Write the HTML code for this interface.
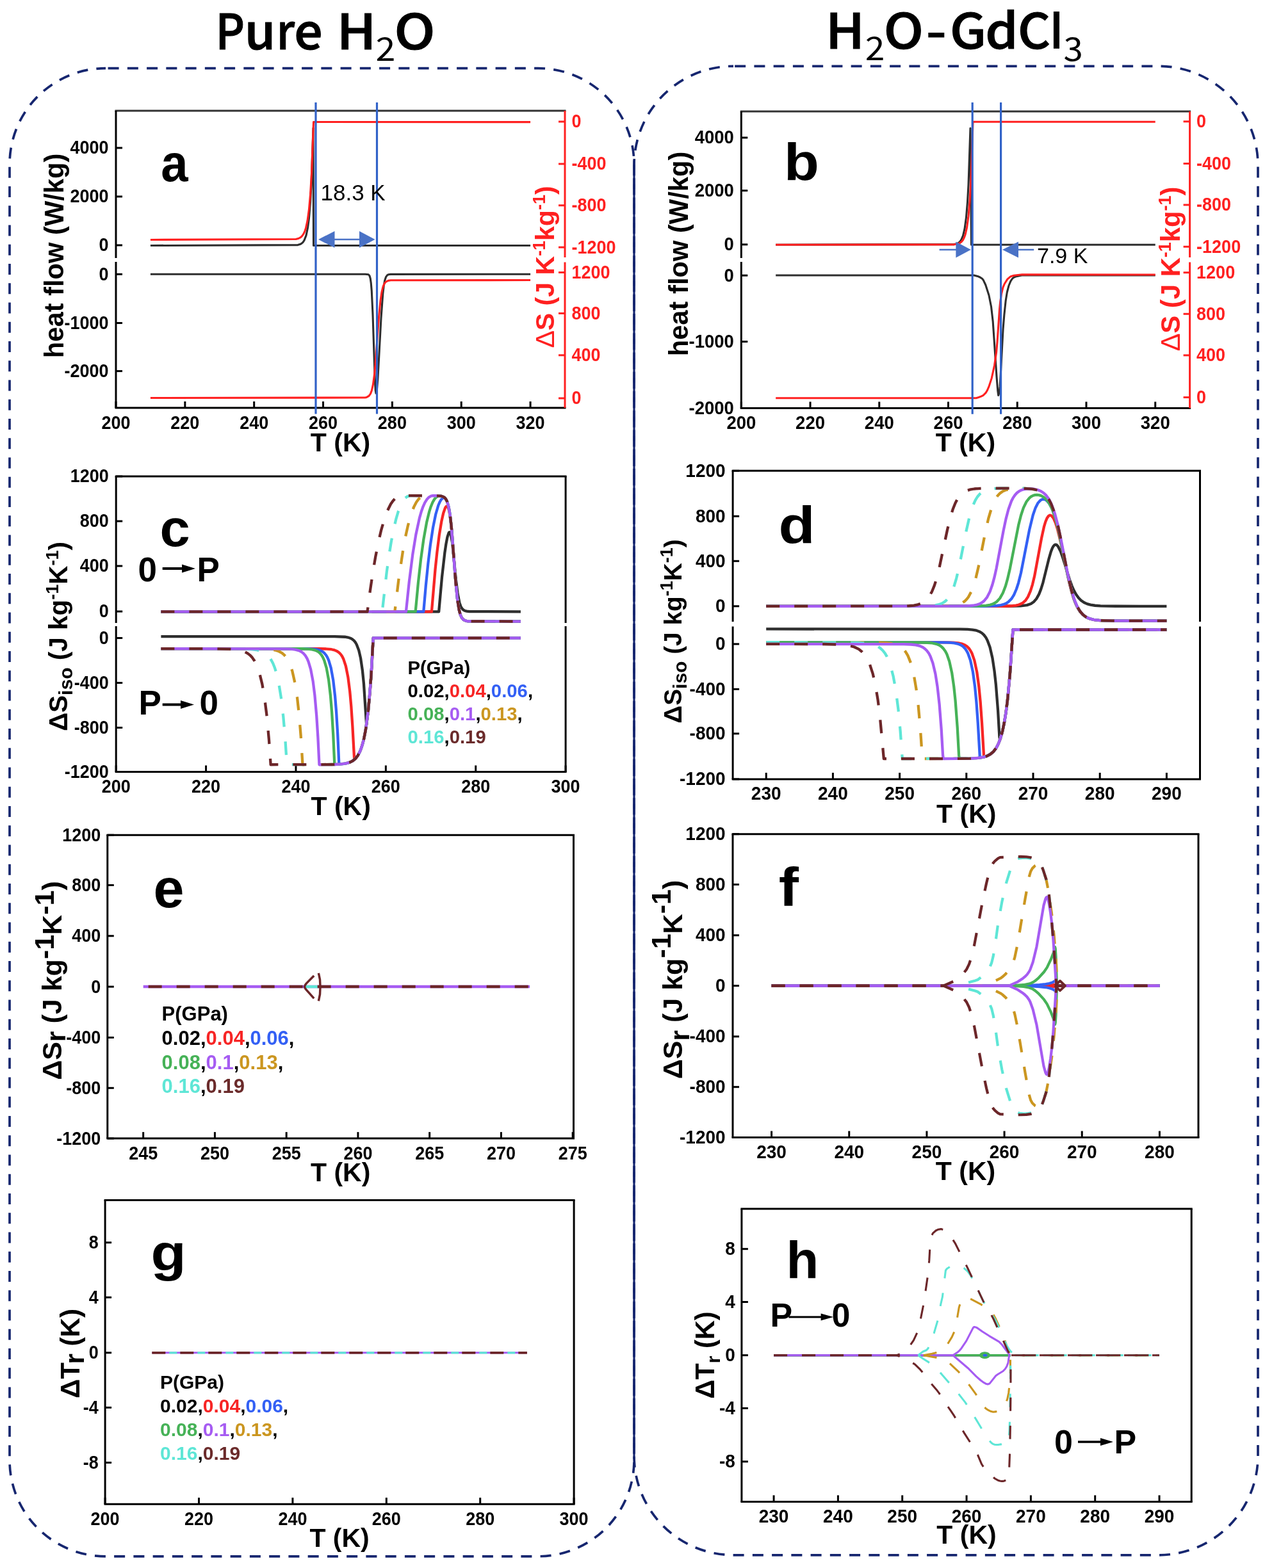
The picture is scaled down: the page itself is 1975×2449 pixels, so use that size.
<!DOCTYPE html>
<html><head><meta charset="utf-8"><title>Figure</title>
<style>html,body{margin:0;padding:0;background:#fff;} svg{display:block;}</style>
</head><body>
<svg width="1975" height="2449" viewBox="0 0 1975 2449"><g font-family="'Noto Sans CJK SC', 'Liberation Sans', sans-serif" fill="#000">
<text transform="translate(336.52,76.6) scale(0.926,1)" font-size="76" font-weight="500" stroke="#000" stroke-width="1.1">P</text>
<text transform="translate(381.71,76.6) scale(1.031,1)" font-size="76" font-weight="500" stroke="#000" stroke-width="1.1">u</text>
<text transform="translate(431.81,76.6) scale(0.913,1)" font-size="76" font-weight="500" stroke="#000" stroke-width="1.1">r</text>
<text transform="translate(459.27,76.6) scale(1.033,1)" font-size="76" font-weight="500" stroke="#000" stroke-width="1.1">e</text>
<text transform="translate(525.73,76.6) scale(1.095,1)" font-size="76" font-weight="500" stroke="#000" stroke-width="1.1">H</text>
<text transform="translate(615.43,76.6) scale(1.116,1)" font-size="76" font-weight="500" stroke="#000" stroke-width="1.1">O</text>
<text transform="translate(586.57,94.6) scale(1.113,1)" font-size="50" font-weight="400">2</text>
<text transform="translate(1288.92,76.3) scale(1.083,1)" font-size="76" font-weight="500" stroke="#000" stroke-width="1.1">H</text>
<text transform="translate(1379.66,76.3) scale(1.086,1)" font-size="76" font-weight="500" stroke="#000" stroke-width="1.1">O</text>
<text transform="translate(1445.63,76.3) scale(1.180,1)" font-size="76" font-weight="500" stroke="#000" stroke-width="1.1">-</text>
<text transform="translate(1482.92,76.3) scale(1.070,1)" font-size="76" font-weight="500" stroke="#000" stroke-width="1.1">G</text>
<text transform="translate(1538.31,76.3) scale(1.073,1)" font-size="76" font-weight="500" stroke="#000" stroke-width="1.1">d</text>
<text transform="translate(1589.04,76.3) scale(1.040,1)" font-size="76" font-weight="500" stroke="#000" stroke-width="1.1">C</text>
<text transform="translate(1640.25,76.2) scale(0.842,1)" font-family="'Liberation Sans', Arial, sans-serif" font-size="78.9" font-weight="bold">l</text>
<text transform="translate(1350.79,94.4) scale(1.104,1)" font-size="50" font-weight="400">2</text>
<text transform="translate(1660.62,94.8) scale(1.091,1)" font-size="50" font-weight="400">3</text>
</g>
<path d="M165,106.6 L840,106.6 A150,150 0 0 1 990,256.6 L990,2280.8 A150,150 0 0 1 840,2430.8 L165,2430.8 A150,150 0 0 1 15,2280.8 L15,256.6 A150,150 0 0 1 165,106.6 Z" fill="none" stroke="#16266f" stroke-width="3.7" stroke-dasharray="17,13.25" stroke-dashoffset="-3.6"/>
<path d="M1145,103.3 L1809,103.3 A155,155 0 0 1 1964,258.3 L1964,2273.8 A155,155 0 0 1 1809,2428.8 L1145,2428.8 A155,155 0 0 1 990,2273.8 L990,258.3 A155,155 0 0 1 1145,103.3 Z" fill="none" stroke="#16266f" stroke-width="3.7" stroke-dasharray="17,13.25" stroke-dashoffset="-2.15"/>
<line x1="990" y1="250" x2="990" y2="2279" stroke="#16266f" stroke-width="3.2" />
<line x1="179.5" y1="173" x2="883.5" y2="173" stroke="#333" stroke-width="3" />
<line x1="179.5" y1="637" x2="883.5" y2="637" stroke="#000" stroke-width="3" />
<line x1="181" y1="173" x2="181" y2="403" stroke="#000" stroke-width="3" />
<line x1="181" y1="409" x2="181" y2="637" stroke="#000" stroke-width="3" />
<line x1="882" y1="173" x2="882" y2="402" stroke="#ff2020" stroke-width="3" />
<line x1="882" y1="409.5" x2="882" y2="637" stroke="#ff2020" stroke-width="3" />
<line x1="181" y1="637" x2="181" y2="627" stroke="#000" stroke-width="3" />
<text transform="translate(181,669.5) scale(1.0,1.08)" font-family="'Liberation Sans', Arial, sans-serif" font-size="27" font-weight="bold" fill="#000" text-anchor="middle" >200</text>
<line x1="288.85" y1="637" x2="288.85" y2="627" stroke="#000" stroke-width="3" />
<text transform="translate(288.85,669.5) scale(1.0,1.08)" font-family="'Liberation Sans', Arial, sans-serif" font-size="27" font-weight="bold" fill="#000" text-anchor="middle" >220</text>
<line x1="396.69" y1="637" x2="396.69" y2="627" stroke="#000" stroke-width="3" />
<text transform="translate(396.69,669.5) scale(1.0,1.08)" font-family="'Liberation Sans', Arial, sans-serif" font-size="27" font-weight="bold" fill="#000" text-anchor="middle" >240</text>
<line x1="504.54" y1="637" x2="504.54" y2="627" stroke="#000" stroke-width="3" />
<text transform="translate(504.54,669.5) scale(1.0,1.08)" font-family="'Liberation Sans', Arial, sans-serif" font-size="27" font-weight="bold" fill="#000" text-anchor="middle" >260</text>
<line x1="612.38" y1="637" x2="612.38" y2="627" stroke="#000" stroke-width="3" />
<text transform="translate(612.38,669.5) scale(1.0,1.08)" font-family="'Liberation Sans', Arial, sans-serif" font-size="27" font-weight="bold" fill="#000" text-anchor="middle" >280</text>
<line x1="720.23" y1="637" x2="720.23" y2="627" stroke="#000" stroke-width="3" />
<text transform="translate(720.23,669.5) scale(1.0,1.08)" font-family="'Liberation Sans', Arial, sans-serif" font-size="27" font-weight="bold" fill="#000" text-anchor="middle" >300</text>
<line x1="828.08" y1="637" x2="828.08" y2="627" stroke="#000" stroke-width="3" />
<text transform="translate(828.08,669.5) scale(1.0,1.08)" font-family="'Liberation Sans', Arial, sans-serif" font-size="27" font-weight="bold" fill="#000" text-anchor="middle" >320</text>
<line x1="181" y1="231" x2="191" y2="231" stroke="#000" stroke-width="3" />
<text transform="translate(169.5,240.4) scale(1.0,1.08)" font-family="'Liberation Sans', Arial, sans-serif" font-size="27" font-weight="bold" fill="#000" text-anchor="end" >4000</text>
<line x1="181" y1="307" x2="191" y2="307" stroke="#000" stroke-width="3" />
<text transform="translate(169.5,316.4) scale(1.0,1.08)" font-family="'Liberation Sans', Arial, sans-serif" font-size="27" font-weight="bold" fill="#000" text-anchor="end" >2000</text>
<line x1="181" y1="383" x2="191" y2="383" stroke="#000" stroke-width="3" />
<text transform="translate(169.5,392.4) scale(1.0,1.08)" font-family="'Liberation Sans', Arial, sans-serif" font-size="27" font-weight="bold" fill="#000" text-anchor="end" >0</text>
<line x1="181" y1="428.3" x2="191" y2="428.3" stroke="#000" stroke-width="3" />
<text transform="translate(169.5,437.7) scale(1.0,1.08)" font-family="'Liberation Sans', Arial, sans-serif" font-size="27" font-weight="bold" fill="#000" text-anchor="end" >0</text>
<line x1="181" y1="504.5" x2="191" y2="504.5" stroke="#000" stroke-width="3" />
<text transform="translate(169.5,513.9) scale(1.0,1.08)" font-family="'Liberation Sans', Arial, sans-serif" font-size="27" font-weight="bold" fill="#000" text-anchor="end" >-1000</text>
<line x1="181" y1="579.6" x2="191" y2="579.6" stroke="#000" stroke-width="3" />
<text transform="translate(169.5,589) scale(1.0,1.08)" font-family="'Liberation Sans', Arial, sans-serif" font-size="27" font-weight="bold" fill="#000" text-anchor="end" >-2000</text>
<line x1="882" y1="190" x2="872" y2="190" stroke="#ff2020" stroke-width="3" />
<text transform="translate(892.5,199.4) scale(1.0,1.08)" font-family="'Liberation Sans', Arial, sans-serif" font-size="27" font-weight="bold" fill="#ff2020" text-anchor="start" >0</text>
<line x1="882" y1="256" x2="872" y2="256" stroke="#ff2020" stroke-width="3" />
<text transform="translate(892.5,265.4) scale(1.0,1.08)" font-family="'Liberation Sans', Arial, sans-serif" font-size="27" font-weight="bold" fill="#ff2020" text-anchor="start" >-400</text>
<line x1="882" y1="320.8" x2="872" y2="320.8" stroke="#ff2020" stroke-width="3" />
<text transform="translate(892.5,330.2) scale(1.0,1.08)" font-family="'Liberation Sans', Arial, sans-serif" font-size="27" font-weight="bold" fill="#ff2020" text-anchor="start" >-800</text>
<line x1="882" y1="386.2" x2="872" y2="386.2" stroke="#ff2020" stroke-width="3" />
<text transform="translate(892.5,395.6) scale(1.0,1.08)" font-family="'Liberation Sans', Arial, sans-serif" font-size="27" font-weight="bold" fill="#ff2020" text-anchor="start" >-1200</text>
<line x1="882" y1="425.5" x2="872" y2="425.5" stroke="#ff2020" stroke-width="3" />
<text transform="translate(892.5,434.9) scale(1.0,1.08)" font-family="'Liberation Sans', Arial, sans-serif" font-size="27" font-weight="bold" fill="#ff2020" text-anchor="start" >1200</text>
<line x1="882" y1="489.4" x2="872" y2="489.4" stroke="#ff2020" stroke-width="3" />
<text transform="translate(892.5,498.8) scale(1.0,1.08)" font-family="'Liberation Sans', Arial, sans-serif" font-size="27" font-weight="bold" fill="#ff2020" text-anchor="start" >800</text>
<line x1="882" y1="554.8" x2="872" y2="554.8" stroke="#ff2020" stroke-width="3" />
<text transform="translate(892.5,564.2) scale(1.0,1.08)" font-family="'Liberation Sans', Arial, sans-serif" font-size="27" font-weight="bold" fill="#ff2020" text-anchor="start" >400</text>
<line x1="882" y1="622" x2="872" y2="622" stroke="#ff2020" stroke-width="3" />
<text transform="translate(892.5,631.4) scale(1.0,1.08)" font-family="'Liberation Sans', Arial, sans-serif" font-size="27" font-weight="bold" fill="#ff2020" text-anchor="start" >0</text>
<text transform="translate(99.3,399.4) rotate(-90)" font-family="'Liberation Sans', Arial, sans-serif" font-size="41.7" font-weight="bold" fill="#000" text-anchor="middle">heat flow (W/kg)</text>
<text transform="translate(865,417) rotate(-90)" font-family="'Liberation Sans', Arial, sans-serif" font-size="41" font-weight="bold" fill="#ff2020" text-anchor="middle"><tspan font-weight="normal">&#916;</tspan>S (J K<tspan dy="-14" font-size="27">-1</tspan><tspan dy="14">kg</tspan><tspan dy="-14" font-size="27">-1</tspan><tspan dy="14">)</tspan></text>
<text transform="translate(251.22,282.89) scale(0.936,1)" font-family="'Liberation Sans', Arial, sans-serif" font-size="81.3" font-weight="bold">a</text>
<text x="531.5" y="704.5" font-family="'Liberation Sans', Arial, sans-serif" font-size="41" font-weight="bold" fill="#000" text-anchor="middle" >T (K)</text>
<path d="M234.92,383.5 L465,382.61 L468.5,381.57 L471,380.14 L473,378.26 L475,375.32 L478,367.58 L480.5,355.75 L482.5,340.22 L484.5,315.99 L486,289.29 L489,200 L489.5,383.5 L828.08,383.5" fill="none" stroke="#2e2e2e" stroke-width="3.1" stroke-linejoin="round" stroke-linecap="butt" />
<path d="M234.92,374.5 L462,373.57 L466,372.49 L469.5,370.57 L472,368.14 L474,365.16 L476,360.78 L477.5,356.19 L480,344.89 L482.5,326.62 L484.5,304.16 L486.5,271.16 L489.5,190.5 L828.08,190.6" fill="none" stroke="#ff2020" stroke-width="3.1" stroke-linejoin="round" stroke-linecap="butt" />
<path d="M234.92,428.3 L570.25,428.3 L575.25,428.76 L577,430.72 L578.25,435 L579.25,442.02 L580.25,454.04 L582,491.15 L585.25,591.15 L586.25,609.81 L587,614.3 L587.5,613.57 L588.25,609.81 L589.75,593.57 L595,496.73 L597.75,458.87 L599.25,446.13 L600.75,438 L602.5,432.66 L604.75,429.65 L606.75,428.72 L610,428.35 L828.08,428.3" fill="none" stroke="#2e2e2e" stroke-width="3.1" stroke-linejoin="round" stroke-linecap="butt" />
<path d="M234.92,621.5 L570,621.02 L572.5,620.45 L576,618.39 L578.5,614.84 L580.5,609.43 L582.5,600.16 L584.5,585.28 L586,569.72 L591.5,495.29 L594,469.39 L596,456.06 L598,447.92 L600,443.23 L601.5,441.13 L603,439.79 L606,438.4 L610,437.76 L828.08,437.5" fill="none" stroke="#ff2020" stroke-width="3.1" stroke-linejoin="round" stroke-linecap="butt" />
<line x1="493" y1="160" x2="493" y2="646.5" stroke="#3162c8" stroke-width="3.2" />
<line x1="588.5" y1="160" x2="588.5" y2="646.5" stroke="#3162c8" stroke-width="3.2" />
<line x1="515" y1="374" x2="570" y2="374" stroke="#4a72c6" stroke-width="2.5" />
<path d="M497,374 L522.5,361 L522.5,387 Z" fill="#4a72c6"/>
<path d="M585.5,374 L561,361 L561,387 Z" fill="#4a72c6"/>
<text x="500.5" y="312.6" font-family="'Liberation Sans', Arial, sans-serif" font-size="35" font-weight="normal" fill="#000" text-anchor="start" >18.3 K</text>
<line x1="1155.8" y1="174" x2="1859.1" y2="174" stroke="#333" stroke-width="3" />
<line x1="1155.8" y1="637.5" x2="1859.1" y2="637.5" stroke="#000" stroke-width="3" />
<line x1="1157.3" y1="174" x2="1157.3" y2="403" stroke="#000" stroke-width="3" />
<line x1="1157.3" y1="409" x2="1157.3" y2="637.5" stroke="#000" stroke-width="3" />
<line x1="1857.6" y1="174" x2="1857.6" y2="402" stroke="#ff2020" stroke-width="3" />
<line x1="1857.6" y1="409.5" x2="1857.6" y2="637.5" stroke="#ff2020" stroke-width="3" />
<line x1="1157.3" y1="637.5" x2="1157.3" y2="627.5" stroke="#000" stroke-width="3" />
<text transform="translate(1157.3,670) scale(1.0,1.08)" font-family="'Liberation Sans', Arial, sans-serif" font-size="27.5" font-weight="bold" fill="#000" text-anchor="middle" >200</text>
<line x1="1265.04" y1="637.5" x2="1265.04" y2="627.5" stroke="#000" stroke-width="3" />
<text transform="translate(1265.04,670) scale(1.0,1.08)" font-family="'Liberation Sans', Arial, sans-serif" font-size="27.5" font-weight="bold" fill="#000" text-anchor="middle" >220</text>
<line x1="1372.78" y1="637.5" x2="1372.78" y2="627.5" stroke="#000" stroke-width="3" />
<text transform="translate(1372.78,670) scale(1.0,1.08)" font-family="'Liberation Sans', Arial, sans-serif" font-size="27.5" font-weight="bold" fill="#000" text-anchor="middle" >240</text>
<line x1="1480.52" y1="637.5" x2="1480.52" y2="627.5" stroke="#000" stroke-width="3" />
<text transform="translate(1480.52,670) scale(1.0,1.08)" font-family="'Liberation Sans', Arial, sans-serif" font-size="27.5" font-weight="bold" fill="#000" text-anchor="middle" >260</text>
<line x1="1588.25" y1="637.5" x2="1588.25" y2="627.5" stroke="#000" stroke-width="3" />
<text transform="translate(1588.25,670) scale(1.0,1.08)" font-family="'Liberation Sans', Arial, sans-serif" font-size="27.5" font-weight="bold" fill="#000" text-anchor="middle" >280</text>
<line x1="1695.99" y1="637.5" x2="1695.99" y2="627.5" stroke="#000" stroke-width="3" />
<text transform="translate(1695.99,670) scale(1.0,1.08)" font-family="'Liberation Sans', Arial, sans-serif" font-size="27.5" font-weight="bold" fill="#000" text-anchor="middle" >300</text>
<line x1="1803.73" y1="637.5" x2="1803.73" y2="627.5" stroke="#000" stroke-width="3" />
<text transform="translate(1803.73,670) scale(1.0,1.08)" font-family="'Liberation Sans', Arial, sans-serif" font-size="27.5" font-weight="bold" fill="#000" text-anchor="middle" >320</text>
<line x1="1157.3" y1="215" x2="1167.3" y2="215" stroke="#000" stroke-width="3" />
<text transform="translate(1145.8,224.4) scale(1.0,1.08)" font-family="'Liberation Sans', Arial, sans-serif" font-size="27.5" font-weight="bold" fill="#000" text-anchor="end" >4000</text>
<line x1="1157.3" y1="297.7" x2="1167.3" y2="297.7" stroke="#000" stroke-width="3" />
<text transform="translate(1145.8,307.1) scale(1.0,1.08)" font-family="'Liberation Sans', Arial, sans-serif" font-size="27.5" font-weight="bold" fill="#000" text-anchor="end" >2000</text>
<line x1="1157.3" y1="381.9" x2="1167.3" y2="381.9" stroke="#000" stroke-width="3" />
<text transform="translate(1145.8,391.3) scale(1.0,1.08)" font-family="'Liberation Sans', Arial, sans-serif" font-size="27.5" font-weight="bold" fill="#000" text-anchor="end" >0</text>
<line x1="1157.3" y1="430.2" x2="1167.3" y2="430.2" stroke="#000" stroke-width="3" />
<text transform="translate(1145.8,439.6) scale(1.0,1.08)" font-family="'Liberation Sans', Arial, sans-serif" font-size="27.5" font-weight="bold" fill="#000" text-anchor="end" >0</text>
<line x1="1157.3" y1="533.6" x2="1167.3" y2="533.6" stroke="#000" stroke-width="3" />
<text transform="translate(1145.8,543) scale(1.0,1.08)" font-family="'Liberation Sans', Arial, sans-serif" font-size="27.5" font-weight="bold" fill="#000" text-anchor="end" >-1000</text>
<line x1="1157.3" y1="637.5" x2="1167.3" y2="637.5" stroke="#000" stroke-width="3" />
<text transform="translate(1145.8,646.9) scale(1.0,1.08)" font-family="'Liberation Sans', Arial, sans-serif" font-size="27.5" font-weight="bold" fill="#000" text-anchor="end" >-2000</text>
<line x1="1857.6" y1="189.8" x2="1847.6" y2="189.8" stroke="#ff2020" stroke-width="3" />
<text transform="translate(1868.1,199.2) scale(1.0,1.08)" font-family="'Liberation Sans', Arial, sans-serif" font-size="27" font-weight="bold" fill="#ff2020" text-anchor="start" >0</text>
<line x1="1857.6" y1="255.5" x2="1847.6" y2="255.5" stroke="#ff2020" stroke-width="3" />
<text transform="translate(1868.1,264.9) scale(1.0,1.08)" font-family="'Liberation Sans', Arial, sans-serif" font-size="27" font-weight="bold" fill="#ff2020" text-anchor="start" >-400</text>
<line x1="1857.6" y1="320" x2="1847.6" y2="320" stroke="#ff2020" stroke-width="3" />
<text transform="translate(1868.1,329.4) scale(1.0,1.08)" font-family="'Liberation Sans', Arial, sans-serif" font-size="27" font-weight="bold" fill="#ff2020" text-anchor="start" >-800</text>
<line x1="1857.6" y1="385.3" x2="1847.6" y2="385.3" stroke="#ff2020" stroke-width="3" />
<text transform="translate(1868.1,394.7) scale(1.0,1.08)" font-family="'Liberation Sans', Arial, sans-serif" font-size="27" font-weight="bold" fill="#ff2020" text-anchor="start" >-1200</text>
<line x1="1857.6" y1="425.7" x2="1847.6" y2="425.7" stroke="#ff2020" stroke-width="3" />
<text transform="translate(1868.1,435.1) scale(1.0,1.08)" font-family="'Liberation Sans', Arial, sans-serif" font-size="27" font-weight="bold" fill="#ff2020" text-anchor="start" >1200</text>
<line x1="1857.6" y1="490.3" x2="1847.6" y2="490.3" stroke="#ff2020" stroke-width="3" />
<text transform="translate(1868.1,499.7) scale(1.0,1.08)" font-family="'Liberation Sans', Arial, sans-serif" font-size="27" font-weight="bold" fill="#ff2020" text-anchor="start" >800</text>
<line x1="1857.6" y1="554.9" x2="1847.6" y2="554.9" stroke="#ff2020" stroke-width="3" />
<text transform="translate(1868.1,564.3) scale(1.0,1.08)" font-family="'Liberation Sans', Arial, sans-serif" font-size="27" font-weight="bold" fill="#ff2020" text-anchor="start" >400</text>
<line x1="1857.6" y1="620.6" x2="1847.6" y2="620.6" stroke="#ff2020" stroke-width="3" />
<text transform="translate(1868.1,630) scale(1.0,1.08)" font-family="'Liberation Sans', Arial, sans-serif" font-size="27" font-weight="bold" fill="#ff2020" text-anchor="start" >0</text>
<text transform="translate(1074.3,396.5) rotate(-90)" font-family="'Liberation Sans', Arial, sans-serif" font-size="41.7" font-weight="bold" fill="#000" text-anchor="middle">heat flow (W/kg)</text>
<text transform="translate(1841.5,420) rotate(-90)" font-family="'Liberation Sans', Arial, sans-serif" font-size="41.8" font-weight="bold" fill="#ff2020" text-anchor="middle"><tspan font-weight="normal">&#916;</tspan>S (J K<tspan dy="-14" font-size="27">-1</tspan><tspan dy="14">kg</tspan><tspan dy="-14" font-size="27">-1</tspan><tspan dy="14">)</tspan></text>
<text transform="translate(1224.01,280.8) scale(1.111,1)" font-family="'Liberation Sans', Arial, sans-serif" font-size="80.8" font-weight="bold">b</text>
<text x="1507.45" y="704.5" font-family="'Liberation Sans', Arial, sans-serif" font-size="41" font-weight="bold" fill="#000" text-anchor="middle" >T (K)</text>
<path d="M1211.17,382.3 L1490,381.6 L1493.5,380.77 L1496,379.63 L1498.5,377.65 L1500.5,375.04 L1503.5,368.17 L1506,357.67 L1508.5,339.37 L1510.5,315.35 L1512,288.86 L1515,200.3 L1516.5,382.3 L1803.73,382.3" fill="none" stroke="#2e2e2e" stroke-width="3.1" stroke-linejoin="round" stroke-linecap="butt" />
<path d="M1211.17,382.3 L1490,381.84 L1495,381.01 L1499,379.32 L1501.5,377.29 L1503.5,374.7 L1505.5,370.77 L1507,366.54 L1509.5,355.77 L1512,337.64 L1514,314.55 L1516,279.53 L1519,190.3 L1803.73,190.3" fill="none" stroke="#ff2020" stroke-width="3.1" stroke-linejoin="round" stroke-linecap="butt" />
<path d="M1211.17,430 L1520.6,430 L1526.25,431.43 L1530,433 L1533.49,435.33 L1535.08,437.19 L1538.79,444.97 L1543.94,460.97 L1547.55,479.14 L1550.17,501.97 L1556.06,589.12 L1557.7,609.7 L1558.72,617.49 L1560.13,612.83 L1561.21,603.95 L1566.05,514.08 L1567.91,491.24 L1570.16,469.84 L1572.3,456.5 L1574.86,446.52 L1577.88,439.19 L1580.3,435.5 L1581.72,434.06 L1583.32,432.97 L1586.83,431.61 L1596.5,429.82 L1803.73,430" fill="none" stroke="#2e2e2e" stroke-width="3.1" stroke-linejoin="round" stroke-linecap="butt" />
<path d="M1211.17,621.8 L1523.9,621.8 L1528.01,620.47 L1531.75,619.13 L1535.33,617.27 L1539.18,613.32 L1541.2,610.01 L1543.91,603.94 L1548.25,590.61 L1552.65,570.29 L1555.58,550.05 L1557.03,533.86 L1560.54,482.94 L1561.69,471.28 L1563.57,458.61 L1565.82,449.27 L1568.33,443.22 L1572.78,436.15 L1577.1,432.3 L1578.87,431.41 L1583.08,430.21 L1595.71,428.77 L1803.73,429" fill="none" stroke="#ff2020" stroke-width="3.1" stroke-linejoin="round" stroke-linecap="butt" />
<line x1="1518.2" y1="160" x2="1518.2" y2="646.8" stroke="#3162c8" stroke-width="3.2" />
<line x1="1562.6" y1="160" x2="1562.6" y2="646.8" stroke="#3162c8" stroke-width="3.2" />
<line x1="1466.6" y1="390" x2="1495" y2="390" stroke="#4a72c6" stroke-width="2.5" />
<path d="M1515.8,390 L1492.4,377.4 L1492.4,402.4 Z" fill="#4a72c6"/>
<line x1="1588" y1="390" x2="1614.2" y2="390" stroke="#4a72c6" stroke-width="2.5" />
<path d="M1565,390 L1590,377.4 L1590,402.4 Z" fill="#4a72c6"/>
<text x="1619" y="411.3" font-family="'Liberation Sans', Arial, sans-serif" font-size="34" font-weight="normal" fill="#000" text-anchor="start" >7.9 K</text>
<line x1="179.7" y1="744" x2="884.6" y2="744" stroke="#000" stroke-width="3" />
<line x1="179.7" y1="1205.5" x2="884.6" y2="1205.5" stroke="#000" stroke-width="3" />
<line x1="181.2" y1="744" x2="181.2" y2="973" stroke="#000" stroke-width="3" />
<line x1="181.2" y1="978" x2="181.2" y2="1205.5" stroke="#000" stroke-width="3" />
<line x1="883.1" y1="744" x2="883.1" y2="973" stroke="#000" stroke-width="3" />
<line x1="883.1" y1="978" x2="883.1" y2="1205.5" stroke="#000" stroke-width="3" />
<line x1="181.2" y1="1205.5" x2="181.2" y2="1195.5" stroke="#000" stroke-width="3" />
<text transform="translate(181.2,1238) scale(1.0,1.08)" font-family="'Liberation Sans', Arial, sans-serif" font-size="27" font-weight="bold" fill="#000" text-anchor="middle" >200</text>
<line x1="321.58" y1="1205.5" x2="321.58" y2="1195.5" stroke="#000" stroke-width="3" />
<text transform="translate(321.58,1238) scale(1.0,1.08)" font-family="'Liberation Sans', Arial, sans-serif" font-size="27" font-weight="bold" fill="#000" text-anchor="middle" >220</text>
<line x1="461.96" y1="1205.5" x2="461.96" y2="1195.5" stroke="#000" stroke-width="3" />
<text transform="translate(461.96,1238) scale(1.0,1.08)" font-family="'Liberation Sans', Arial, sans-serif" font-size="27" font-weight="bold" fill="#000" text-anchor="middle" >240</text>
<line x1="602.34" y1="1205.5" x2="602.34" y2="1195.5" stroke="#000" stroke-width="3" />
<text transform="translate(602.34,1238) scale(1.0,1.08)" font-family="'Liberation Sans', Arial, sans-serif" font-size="27" font-weight="bold" fill="#000" text-anchor="middle" >260</text>
<line x1="742.72" y1="1205.5" x2="742.72" y2="1195.5" stroke="#000" stroke-width="3" />
<text transform="translate(742.72,1238) scale(1.0,1.08)" font-family="'Liberation Sans', Arial, sans-serif" font-size="27" font-weight="bold" fill="#000" text-anchor="middle" >280</text>
<line x1="883.1" y1="1205.5" x2="883.1" y2="1195.5" stroke="#000" stroke-width="3" />
<text transform="translate(883.1,1238) scale(1.0,1.08)" font-family="'Liberation Sans', Arial, sans-serif" font-size="27" font-weight="bold" fill="#000" text-anchor="middle" >300</text>
<line x1="181.2" y1="744" x2="191.2" y2="744" stroke="#000" stroke-width="3" />
<text transform="translate(169.7,753.4) scale(1.0,1.08)" font-family="'Liberation Sans', Arial, sans-serif" font-size="27" font-weight="bold" fill="#000" text-anchor="end" >1200</text>
<line x1="181.2" y1="814" x2="191.2" y2="814" stroke="#000" stroke-width="3" />
<text transform="translate(169.7,823.4) scale(1.0,1.08)" font-family="'Liberation Sans', Arial, sans-serif" font-size="27" font-weight="bold" fill="#000" text-anchor="end" >800</text>
<line x1="181.2" y1="884" x2="191.2" y2="884" stroke="#000" stroke-width="3" />
<text transform="translate(169.7,893.4) scale(1.0,1.08)" font-family="'Liberation Sans', Arial, sans-serif" font-size="27" font-weight="bold" fill="#000" text-anchor="end" >400</text>
<line x1="181.2" y1="955" x2="191.2" y2="955" stroke="#000" stroke-width="3" />
<text transform="translate(169.7,964.4) scale(1.0,1.08)" font-family="'Liberation Sans', Arial, sans-serif" font-size="27" font-weight="bold" fill="#000" text-anchor="end" >0</text>
<line x1="181.2" y1="996.5" x2="191.2" y2="996.5" stroke="#000" stroke-width="3" />
<text transform="translate(169.7,1005.9) scale(1.0,1.08)" font-family="'Liberation Sans', Arial, sans-serif" font-size="27" font-weight="bold" fill="#000" text-anchor="end" >0</text>
<line x1="181.2" y1="1066.5" x2="191.2" y2="1066.5" stroke="#000" stroke-width="3" />
<text transform="translate(169.7,1075.9) scale(1.0,1.08)" font-family="'Liberation Sans', Arial, sans-serif" font-size="27" font-weight="bold" fill="#000" text-anchor="end" >-400</text>
<line x1="181.2" y1="1136.5" x2="191.2" y2="1136.5" stroke="#000" stroke-width="3" />
<text transform="translate(169.7,1145.9) scale(1.0,1.08)" font-family="'Liberation Sans', Arial, sans-serif" font-size="27" font-weight="bold" fill="#000" text-anchor="end" >-800</text>
<line x1="181.2" y1="1205.5" x2="191.2" y2="1205.5" stroke="#000" stroke-width="3" />
<text transform="translate(169.7,1214.9) scale(1.0,1.08)" font-family="'Liberation Sans', Arial, sans-serif" font-size="27" font-weight="bold" fill="#000" text-anchor="end" >-1200</text>
<text transform="translate(104.6,994) rotate(-90)" font-family="'Liberation Sans', Arial, sans-serif" font-size="40.5" font-weight="bold" fill="#000" text-anchor="middle">&#916;S<tspan dy="8" font-size="30">iso</tspan><tspan dy="-8"> (J kg</tspan><tspan dy="-14" font-size="27">-1</tspan><tspan dy="14">K</tspan><tspan dy="-14" font-size="27">-1</tspan><tspan dy="14">)</tspan></text>
<text transform="translate(249.5,853.18) scale(1.038,1)" font-family="'Liberation Sans', Arial, sans-serif" font-size="81.8" font-weight="bold">c</text>
<text x="532.15" y="1273.4" font-family="'Liberation Sans', Arial, sans-serif" font-size="41" font-weight="bold" fill="#000" text-anchor="middle" >T (K)</text>
<text x="215.5" y="907.7" font-family="'Liberation Sans', Arial, sans-serif" font-size="53" font-weight="bold" fill="#000" text-anchor="start" >0</text>
<text x="307.5" y="907.7" font-family="'Liberation Sans', Arial, sans-serif" font-size="53" font-weight="bold" fill="#000" text-anchor="start" >P</text>
<line x1="253.7" y1="888" x2="290" y2="888" stroke="#000" stroke-width="4" />
<path d="M305,888 L284,881.5 L284,894.5 Z" fill="#000"/>
<text x="216.5" y="1116.2" font-family="'Liberation Sans', Arial, sans-serif" font-size="53" font-weight="bold" fill="#000" text-anchor="start" >P</text>
<text x="311.5" y="1116.2" font-family="'Liberation Sans', Arial, sans-serif" font-size="53" font-weight="bold" fill="#000" text-anchor="start" >0</text>
<line x1="253.7" y1="1100.4" x2="288" y2="1100.4" stroke="#000" stroke-width="4" />
<path d="M303,1100.4 L282,1094 L282,1107 Z" fill="#000"/>
<text x="636.5" y="1052.5" font-family="'Liberation Sans', Arial, sans-serif" font-size="29.3" font-weight="bold" fill="#000" text-anchor="start" >P(GPa)</text>
<text x="636.5" y="1088.8" font-family="'Liberation Sans', Arial, sans-serif" font-size="29.3" font-weight="bold" fill="#000" text-anchor="start" >0.02,<tspan fill="#f72525">0.04</tspan>,<tspan fill="#3360f5">0.06</tspan>,</text>
<text x="636.5" y="1125.1" font-family="'Liberation Sans', Arial, sans-serif" font-size="29.3" font-weight="bold" fill="#000" text-anchor="start" ><tspan fill="#46b257">0.08</tspan>,<tspan fill="#a65cf2">0.1</tspan>,<tspan fill="#cb9620">0.13</tspan>,</text>
<text x="636.5" y="1161.4" font-family="'Liberation Sans', Arial, sans-serif" font-size="29.3" font-weight="bold" fill="#000" text-anchor="start" ><tspan fill="#5ee6d6">0.16</tspan>,<tspan fill="#6b2b2b">0.19</tspan></text>
<path d="M251.39,955.3 L685.16,955.3 L690.08,900.63 L694.29,863.93 L696.39,849.6 L698.5,838.71 L700.61,832.3 L701.31,831.42 L702.01,831.27 L703.41,833.4 L704.12,835.78 L706.22,848.37 L711.84,904.92 L714.64,927.78 L717.45,941.62 L719.56,947.5 L721.66,950.93 L723.77,952.88 L725.87,953.96 L728.68,954.7 L732.89,955.12 L812.91,955.3" fill="none" stroke="#2e2e2e" stroke-width="4.3" stroke-linejoin="round" stroke-linecap="butt" />
<path d="M251.39,955.3 L673.93,955.3 L679.55,889.02 L682.36,862.47 L685.87,835.1 L689.38,813.93 L692.18,801.48 L694.99,793.37 L696.39,791.22 L697.8,790.61 L699.2,791.85 L699.9,793.29 L701.31,798.07 L704.12,816.74 L706.22,839.39 L711.84,913.8 L714.64,940.23 L717.45,955.67 L718.86,960.33 L720.96,964.81 L723.07,967.37 L725.17,968.8 L727.98,969.77 L732.19,970.33 L812.91,970.57" fill="none" stroke="#f72525" stroke-width="4.3" stroke-linejoin="round" stroke-linecap="butt" />
<path d="M251.39,955.3 L661.3,955.3 L664.81,914.85 L668.32,880.37 L671.83,851.54 L676.04,823.9 L680.25,803.26 L684.46,788.98 L686.57,784.04 L688.67,780.48 L690.78,778.29 L692.89,777.53 L694.29,777.9 L695.69,779.06 L697.8,782.65 L699.9,789.08 L702.01,799.74 L705.52,830.95 L711.13,905.41 L713.94,934.74 L716.75,952.67 L718.86,960.33 L720.96,964.81 L723.07,967.37 L725.17,968.8 L727.98,969.77 L732.19,970.33 L812.91,970.57" fill="none" stroke="#3360f5" stroke-width="4.3" stroke-linejoin="round" stroke-linecap="butt" />
<path d="M251.39,955.3 L648.67,955.3 L652.88,910.61 L657.09,873.29 L661.3,842.88 L666.21,815.48 L670.42,798.3 L672.53,791.71 L675.34,784.81 L678.15,779.88 L680.95,776.7 L683.76,775.03 L686.57,774.59 L689.38,774.98 L692.18,775.95 L694.29,777.39 L695.69,778.92 L698.5,784.43 L701.31,795.61 L703.41,810.01 L705.52,830.95 L711.13,905.41 L713.94,934.74 L716.75,952.67 L718.86,960.33 L720.96,964.81 L723.07,967.37 L725.17,968.8 L727.98,969.77 L732.19,970.33 L812.91,970.57" fill="none" stroke="#46b257" stroke-width="4.3" stroke-linejoin="round" stroke-linecap="butt" />
<path d="M251.39,955.3 L616.38,955.3 L622.7,902.58 L629.71,856.25 L633.22,837.59 L636.73,821.74 L640.24,808.54 L643.75,797.82 L646.56,790.92 L650.07,784.21 L653.58,779.45 L657.09,776.39 L659.9,774.98 L663.41,774.25 L681.65,774.27 L689.38,774.98 L692.18,775.95 L694.29,777.39 L696.39,779.94 L697.8,782.65 L700.61,792.08 L702.71,804.52 L704.82,823.23 L711.13,905.41 L713.94,934.74 L716.75,952.67 L718.86,960.33 L720.96,964.81 L723.07,967.37 L725.17,968.8 L727.98,969.77 L732.19,970.33 L812.91,970.57" fill="none" stroke="#cb9620" stroke-width="4.3" stroke-linejoin="round" stroke-linecap="butt" stroke-dasharray="21,23" />
<path d="M251.39,955.3 L596.72,955.3 L603.74,893.47 L607.25,868.18 L610.76,846.41 L614.27,827.99 L618.48,810.02 L621.99,798.26 L626.2,787.67 L629.01,782.55 L632.52,778.08 L635.33,775.87 L638.84,774.48 L642.35,774.18 L681.65,774.27 L689.38,774.98 L692.18,775.95 L694.29,777.39 L696.39,779.94 L697.8,782.65 L700.61,792.08 L702.71,804.52 L704.82,823.23 L711.13,905.41 L713.94,934.74 L716.75,952.67 L718.86,960.33 L720.96,964.81 L723.07,967.37 L725.17,968.8 L727.98,969.77 L732.19,970.33 L812.91,970.57" fill="none" stroke="#5ee6d6" stroke-width="4.3" stroke-linejoin="round" stroke-linecap="butt" stroke-dasharray="21,23" />
<path d="M251.39,955.3 L633.93,955.3 L638.84,908.42 L644.45,864.8 L649.37,834.74 L654.98,808.85 L657.79,799.01 L660.6,791.07 L663.41,784.89 L666.91,779.4 L669.72,776.59 L673.23,774.72 L676.04,774.24 L681.65,774.27 L689.38,774.98 L692.18,775.95 L694.29,777.39 L696.39,779.94 L697.8,782.65 L700.61,792.08 L702.71,804.52 L704.82,823.23 L711.13,905.41 L713.94,934.74 L716.75,952.67 L718.86,960.33 L720.96,964.81 L723.07,967.37 L725.17,968.8 L727.98,969.77 L732.19,970.33 L812.91,970.57" fill="none" stroke="#a65cf2" stroke-width="4.3" stroke-linejoin="round" stroke-linecap="butt" />
<path d="M251.39,955.3 L573.56,955.3 L577.77,923.23 L581.98,894.83 L586.2,869.95 L591.11,845.16 L595.32,827.36 L600.23,810.35 L605.15,797.11 L610.06,787.31 L613.57,782.21 L617.08,778.53 L621.29,775.76 L625.5,774.46 L629.71,774.18 L681.65,774.27 L689.38,774.98 L692.18,775.95 L694.29,777.39 L696.39,779.94 L697.8,782.65 L700.61,792.08 L702.71,804.52 L704.82,823.23 L711.13,905.41 L713.94,934.74 L716.75,952.67 L718.86,960.33 L720.96,964.81 L723.07,967.37 L725.17,968.8 L727.98,969.77 L732.19,970.33 L812.91,970.57" fill="none" stroke="#6c2629" stroke-width="4.3" stroke-linejoin="round" stroke-linecap="butt" stroke-dasharray="21,23" />
<path d="M251.39,994.05 L522.32,994.1 L538.47,994.74 L543.38,995.56 L546.89,996.68 L549.7,998.15 L552.51,1000.44 L554.61,1002.97 L556.72,1006.5 L560.23,1015.75 L563.03,1027.89 L565.84,1046.82 L567.95,1067.7 L572.16,1131.88 L574.97,1109.4 L577.77,1078.83 L580.58,1037.25 L582.69,996.5 L812.91,996.5" fill="none" stroke="#2e2e2e" stroke-width="4.3" stroke-linejoin="round" stroke-linecap="butt" />
<path d="M251.39,1013.12 L500.56,1013.23 L510.39,1013.53 L517.41,1014.23 L522.32,1015.35 L526.53,1017.18 L529.34,1019.17 L532.15,1022.14 L534.26,1025.3 L536.36,1029.56 L539.87,1040.22 L543.38,1057.79 L546.19,1079.76 L548.29,1103.07 L550.4,1134.54 L553.21,1186.43 L556.01,1183.62 L558.82,1179.79 L561.63,1174.58 L563.74,1169.47 L567.95,1154.93 L571.46,1136.49 L574.97,1109.4 L577.77,1078.83 L580.58,1037.25 L582.69,996.5 L812.91,996.5" fill="none" stroke="#f72525" stroke-width="4.3" stroke-linejoin="round" stroke-linecap="butt" />
<path d="M251.39,1013.12 L478.1,1013.25 L487.93,1013.62 L494.25,1014.35 L499.16,1015.58 L503.37,1017.6 L506.18,1019.81 L508.99,1023.09 L511.09,1026.58 L513.2,1031.28 L516.71,1043.06 L520.22,1062.49 L523.03,1086.76 L525.13,1112.53 L527.24,1147.31 L529.34,1193.68 L537.77,1192.81 L544.08,1191.37 L549.7,1188.93 L553.91,1185.81 L557.42,1181.85 L560.93,1176.03 L563.74,1169.47 L566.54,1160.54 L569.35,1148.4 L571.46,1136.49 L575.67,1102.62 L579.18,1059.64 L582.69,996.5 L812.91,996.5" fill="none" stroke="#3360f5" stroke-width="4.3" stroke-linejoin="round" stroke-linecap="butt" />
<path d="M251.39,1013.12 L471.08,1013.25 L480.91,1013.62 L487.23,1014.35 L492.14,1015.58 L496.35,1017.6 L499.16,1019.81 L501.97,1023.09 L504.07,1026.58 L506.18,1031.28 L509.69,1043.06 L513.2,1062.49 L516.01,1086.76 L518.11,1112.53 L520.22,1147.31 L522.32,1193.99 L532.15,1193.47 L539.87,1192.44 L546.19,1190.63 L551.1,1188.04 L555.31,1184.4 L558.82,1179.79 L562.33,1173 L565.14,1165.35 L567.95,1154.93 L570.75,1140.77 L574.97,1109.4 L579.18,1059.64 L582.69,996.5 L812.91,996.5" fill="none" stroke="#46b257" stroke-width="4.3" stroke-linejoin="round" stroke-linecap="butt" />
<path d="M251.39,1013.13 L384.05,1013.15 L411.42,1013.49 L421.25,1014.11 L428.97,1015.29 L435.29,1017.24 L440.2,1019.9 L443.71,1022.81 L446.52,1026.01 L449.33,1030.28 L452.13,1035.95 L456.34,1048.16 L460.56,1066.91 L464.07,1089.99 L466.87,1115.41 L469.68,1149.24 L472.49,1194.25 L522.32,1193.99 L532.15,1193.47 L539.87,1192.44 L546.19,1190.63 L551.1,1188.04 L555.31,1184.4 L558.82,1179.79 L562.33,1173 L565.14,1165.35 L567.95,1154.93 L570.75,1140.77 L574.97,1109.4 L579.18,1059.64 L582.69,996.5 L812.91,996.5" fill="none" stroke="#cb9620" stroke-width="4.3" stroke-linejoin="round" stroke-linecap="butt" stroke-dasharray="21,23" />
<path d="M251.39,1013.13 L358.08,1013.16 L384.75,1013.57 L394.58,1014.27 L402.3,1015.5 L408.62,1017.46 L413.53,1020.03 L417.04,1022.76 L420.55,1026.58 L423.36,1030.69 L426.16,1036.06 L428.97,1043.06 L431.08,1049.69 L435.29,1067.68 L438.8,1089.26 L442.31,1119.38 L445.11,1151.85 L447.92,1194.25 L522.32,1193.99 L532.15,1193.47 L539.87,1192.44 L546.19,1190.63 L551.1,1188.04 L555.31,1184.4 L558.82,1179.79 L562.33,1173 L565.14,1165.35 L567.95,1154.93 L570.75,1140.77 L574.97,1109.4 L579.18,1059.64 L582.69,996.5 L812.91,996.5" fill="none" stroke="#5ee6d6" stroke-width="4.3" stroke-linejoin="round" stroke-linecap="butt" stroke-dasharray="21,23" />
<path d="M251.39,1013.13 L445.11,1013.31 L454.24,1013.71 L461.26,1014.59 L466.87,1016.15 L471.08,1018.35 L473.89,1020.64 L476.7,1023.94 L479.51,1028.68 L481.61,1033.56 L485.12,1045.32 L488.63,1063.85 L491.44,1086.1 L494.25,1118.1 L496.35,1151.02 L498.46,1194.23 L522.32,1193.99 L532.15,1193.47 L539.87,1192.44 L546.19,1190.63 L551.1,1188.04 L555.31,1184.4 L558.82,1179.79 L562.33,1173 L565.14,1165.35 L567.95,1154.93 L570.75,1140.77 L574.97,1109.4 L579.18,1059.64 L582.69,996.5 L812.91,996.5" fill="none" stroke="#a65cf2" stroke-width="4.3" stroke-linejoin="round" stroke-linecap="butt" />
<path d="M251.39,1013.13 L333.51,1013.19 L358.78,1013.74 L367.91,1014.51 L375.63,1015.88 L381.94,1017.95 L386.86,1020.6 L390.37,1023.34 L393.88,1027.09 L397.39,1032.22 L400.19,1037.64 L405.11,1051.09 L409.32,1068.37 L412.83,1088.63 L416.34,1116.33 L419.85,1154.19 L422.65,1194.25 L522.32,1193.99 L532.15,1193.47 L539.87,1192.44 L546.19,1190.63 L551.1,1188.04 L555.31,1184.4 L558.82,1179.79 L562.33,1173 L565.14,1165.35 L567.95,1154.93 L570.75,1140.77 L574.97,1109.4 L579.18,1059.64 L582.69,996.5 L812.91,996.5" fill="none" stroke="#6c2629" stroke-width="4.3" stroke-linejoin="round" stroke-linecap="butt" stroke-dasharray="21,23" />
<line x1="1142.6" y1="735.3" x2="1875" y2="735.3" stroke="#000" stroke-width="3" />
<line x1="1142.6" y1="1216.9" x2="1875" y2="1216.9" stroke="#000" stroke-width="3" />
<line x1="1144.1" y1="735.3" x2="1144.1" y2="971" stroke="#000" stroke-width="3" />
<line x1="1144.1" y1="978.5" x2="1144.1" y2="1216.9" stroke="#000" stroke-width="3" />
<line x1="1873.5" y1="735.3" x2="1873.5" y2="971" stroke="#000" stroke-width="3" />
<line x1="1873.5" y1="978.5" x2="1873.5" y2="1216.9" stroke="#000" stroke-width="3" />
<line x1="1196.2" y1="1216.9" x2="1196.2" y2="1206.9" stroke="#000" stroke-width="3" />
<text transform="translate(1196.2,1249.4) scale(1.0,1.08)" font-family="'Liberation Sans', Arial, sans-serif" font-size="28" font-weight="bold" fill="#000" text-anchor="middle" >230</text>
<line x1="1300.4" y1="1216.9" x2="1300.4" y2="1206.9" stroke="#000" stroke-width="3" />
<text transform="translate(1300.4,1249.4) scale(1.0,1.08)" font-family="'Liberation Sans', Arial, sans-serif" font-size="28" font-weight="bold" fill="#000" text-anchor="middle" >240</text>
<line x1="1404.6" y1="1216.9" x2="1404.6" y2="1206.9" stroke="#000" stroke-width="3" />
<text transform="translate(1404.6,1249.4) scale(1.0,1.08)" font-family="'Liberation Sans', Arial, sans-serif" font-size="28" font-weight="bold" fill="#000" text-anchor="middle" >250</text>
<line x1="1508.8" y1="1216.9" x2="1508.8" y2="1206.9" stroke="#000" stroke-width="3" />
<text transform="translate(1508.8,1249.4) scale(1.0,1.08)" font-family="'Liberation Sans', Arial, sans-serif" font-size="28" font-weight="bold" fill="#000" text-anchor="middle" >260</text>
<line x1="1613" y1="1216.9" x2="1613" y2="1206.9" stroke="#000" stroke-width="3" />
<text transform="translate(1613,1249.4) scale(1.0,1.08)" font-family="'Liberation Sans', Arial, sans-serif" font-size="28" font-weight="bold" fill="#000" text-anchor="middle" >270</text>
<line x1="1717.2" y1="1216.9" x2="1717.2" y2="1206.9" stroke="#000" stroke-width="3" />
<text transform="translate(1717.2,1249.4) scale(1.0,1.08)" font-family="'Liberation Sans', Arial, sans-serif" font-size="28" font-weight="bold" fill="#000" text-anchor="middle" >280</text>
<line x1="1821.4" y1="1216.9" x2="1821.4" y2="1206.9" stroke="#000" stroke-width="3" />
<text transform="translate(1821.4,1249.4) scale(1.0,1.08)" font-family="'Liberation Sans', Arial, sans-serif" font-size="28" font-weight="bold" fill="#000" text-anchor="middle" >290</text>
<line x1="1144.1" y1="735.3" x2="1154.1" y2="735.3" stroke="#000" stroke-width="3" />
<text transform="translate(1132.6,744.7) scale(1.0,1.08)" font-family="'Liberation Sans', Arial, sans-serif" font-size="28" font-weight="bold" fill="#000" text-anchor="end" >1200</text>
<line x1="1144.1" y1="806.3" x2="1154.1" y2="806.3" stroke="#000" stroke-width="3" />
<text transform="translate(1132.6,815.7) scale(1.0,1.08)" font-family="'Liberation Sans', Arial, sans-serif" font-size="28" font-weight="bold" fill="#000" text-anchor="end" >800</text>
<line x1="1144.1" y1="876.3" x2="1154.1" y2="876.3" stroke="#000" stroke-width="3" />
<text transform="translate(1132.6,885.7) scale(1.0,1.08)" font-family="'Liberation Sans', Arial, sans-serif" font-size="28" font-weight="bold" fill="#000" text-anchor="end" >400</text>
<line x1="1144.1" y1="946.8" x2="1154.1" y2="946.8" stroke="#000" stroke-width="3" />
<text transform="translate(1132.6,956.2) scale(1.0,1.08)" font-family="'Liberation Sans', Arial, sans-serif" font-size="28" font-weight="bold" fill="#000" text-anchor="end" >0</text>
<line x1="1144.1" y1="1005.9" x2="1154.1" y2="1005.9" stroke="#000" stroke-width="3" />
<text transform="translate(1132.6,1015.3) scale(1.0,1.08)" font-family="'Liberation Sans', Arial, sans-serif" font-size="28" font-weight="bold" fill="#000" text-anchor="end" >0</text>
<line x1="1144.1" y1="1076.4" x2="1154.1" y2="1076.4" stroke="#000" stroke-width="3" />
<text transform="translate(1132.6,1085.8) scale(1.0,1.08)" font-family="'Liberation Sans', Arial, sans-serif" font-size="28" font-weight="bold" fill="#000" text-anchor="end" >-400</text>
<line x1="1144.1" y1="1145.8" x2="1154.1" y2="1145.8" stroke="#000" stroke-width="3" />
<text transform="translate(1132.6,1155.2) scale(1.0,1.08)" font-family="'Liberation Sans', Arial, sans-serif" font-size="28" font-weight="bold" fill="#000" text-anchor="end" >-800</text>
<line x1="1144.1" y1="1216.9" x2="1154.1" y2="1216.9" stroke="#000" stroke-width="3" />
<text transform="translate(1132.6,1226.3) scale(1.0,1.08)" font-family="'Liberation Sans', Arial, sans-serif" font-size="28" font-weight="bold" fill="#000" text-anchor="end" >-1200</text>
<text transform="translate(1064.3,986) rotate(-90)" font-family="'Liberation Sans', Arial, sans-serif" font-size="38.8" font-weight="bold" fill="#000" text-anchor="middle">&#916;S<tspan dy="8" font-size="30">iso</tspan><tspan dy="-8"> (J kg</tspan><tspan dy="-14" font-size="27">-1</tspan><tspan dy="14">K</tspan><tspan dy="-14" font-size="27">-1</tspan><tspan dy="14">)</tspan></text>
<text transform="translate(1215.46,847.8) scale(1.140,1)" font-family="'Liberation Sans', Arial, sans-serif" font-size="81.9" font-weight="bold">d</text>
<text x="1508.8" y="1285" font-family="'Liberation Sans', Arial, sans-serif" font-size="41" font-weight="bold" fill="#000" text-anchor="middle" >T (K)</text>
<path d="M1196.2,946.8 L1573.66,946.77 L1593.2,946.39 L1603.36,945.15 L1609.61,942.97 L1614.3,939.72 L1618.21,935.15 L1622.12,928.1 L1625.24,920.16 L1628.37,910.01 L1637.75,872.08 L1640.87,861.41 L1643.22,855.54 L1644.78,852.85 L1646.34,851.18 L1647.91,850.55 L1649.47,850.91 L1651.81,853.2 L1655.72,860.91 L1659.63,872.07 L1669.79,904.94 L1673.7,915.52 L1676.82,922.52 L1679.95,928.23 L1683.86,933.73 L1687.76,937.72 L1692.45,941.01 L1697.14,943.14 L1702.61,944.67 L1709.65,945.75 L1718.24,946.36 L1741.69,946.76 L1821.4,946.8" fill="none" stroke="#2e2e2e" stroke-width="4.3" stroke-linejoin="round" stroke-linecap="butt" />
<path d="M1196.2,946.8 L1561.94,946.76 L1580.7,946.23 L1586.17,945.59 L1590.86,944.51 L1596.33,942.01 L1601.02,937.92 L1604.92,932.16 L1608.83,923.21 L1611.96,913.08 L1615.08,900.02 L1626.03,840.74 L1629.93,822.96 L1632.28,815 L1634.62,809.32 L1636.97,805.91 L1639.31,804.67 L1641.65,805.47 L1644.78,809.48 L1647.91,816.58 L1651.03,826.44 L1656.5,849.07 L1669.01,908.66 L1672.91,923.98 L1676.04,934.14 L1679.17,942.45 L1683.07,950.48 L1686.98,956.33 L1690.89,960.5 L1695.58,963.87 L1701.05,966.31 L1708.08,968.03 L1716.68,969.01 L1740.12,969.65 L1821.4,969.72" fill="none" stroke="#f72525" stroke-width="4.3" stroke-linejoin="round" stroke-linecap="butt" />
<path d="M1196.2,946.8 L1536.15,946.73 L1556.47,945.99 L1562.72,945.1 L1568.19,943.55 L1571.32,942.1 L1574.45,940.05 L1579.13,935.27 L1583.04,929.05 L1586.95,920.02 L1590.08,910.3 L1593.98,894.77 L1607.27,826.93 L1612.74,804.45 L1616.65,793.14 L1620.55,785.61 L1624.46,781.32 L1626.81,780.08 L1629.15,779.74 L1631.5,780.24 L1633.84,781.58 L1637.75,785.72 L1642.44,794.14 L1646.34,804.41 L1649.47,814.92 L1653.38,830.82 L1667.44,900.13 L1673.7,925.67 L1677.6,937.79 L1681.51,947.04 L1685.42,953.86 L1690.11,959.55 L1694.8,963.26 L1700.27,965.95 L1707.3,967.85 L1715.9,968.93 L1739.34,969.64 L1821.4,969.72" fill="none" stroke="#3360f5" stroke-width="4.3" stroke-linejoin="round" stroke-linecap="butt" />
<path d="M1196.2,946.8 L1518.96,946.72 L1539.28,945.84 L1545.53,944.77 L1550.22,943.27 L1553.35,941.71 L1556.47,939.49 L1561.16,934.35 L1565.85,926.04 L1569.76,915.78 L1572.88,904.96 L1576.79,888.14 L1590.08,820.54 L1593.98,804.98 L1597.89,793.17 L1602.58,783.49 L1607.27,777.6 L1609.61,775.71 L1612.74,774.03 L1615.87,773.13 L1618.99,772.88 L1622.9,773.39 L1626.03,774.48 L1629.93,776.78 L1633.06,779.55 L1636.18,783.33 L1638.53,786.97 L1641.65,793.09 L1644,798.76 L1647.91,810.52 L1652.6,828.58 L1667.44,900.8 L1673.7,926.1 L1677.6,938.1 L1681.51,947.27 L1685.42,954.02 L1690.11,959.65 L1694.8,963.33 L1700.27,965.99 L1707.3,967.87 L1715.9,968.94 L1739.34,969.65 L1821.4,969.72" fill="none" stroke="#46b257" stroke-width="4.3" stroke-linejoin="round" stroke-linecap="butt" />
<path d="M1196.2,946.8 L1468.94,946.68 L1480.67,946.34 L1488.48,945.7 L1494.73,944.59 L1500.2,942.74 L1503.33,941.08 L1506.46,938.76 L1509.58,935.57 L1511.93,932.43 L1516.62,923.65 L1520.52,913.16 L1523.65,902.35 L1527.56,885.85 L1538.5,830.74 L1543.19,809.88 L1548.66,791.45 L1551,785.54 L1554.13,779.29 L1557.25,774.6 L1561.16,770.44 L1565.07,767.66 L1569.76,765.54 L1575.23,764.13 L1582.26,763.24 L1590.86,762.86 L1601.02,762.97 L1609.61,763.58 L1615.87,764.57 L1621.34,766.13 L1626.03,768.32 L1629.93,771.06 L1633.84,775.01 L1637.75,780.57 L1640.87,786.54 L1646.34,801.03 L1651.81,821.43 L1656.5,843.25 L1667.44,898.98 L1673.7,924.95 L1677.6,937.26 L1681.51,946.67 L1686.2,954.74 L1690.89,960.13 L1695.58,963.64 L1701.05,966.18 L1708.08,967.96 L1716.68,968.98 L1740.12,969.65 L1821.4,969.72" fill="none" stroke="#cb9620" stroke-width="4.3" stroke-linejoin="round" stroke-linecap="butt" stroke-dasharray="21,23" />
<path d="M1196.2,946.8 L1440.03,946.66 L1450.97,946.32 L1458.78,945.64 L1465.04,944.46 L1470.51,942.5 L1473.63,940.74 L1476.76,938.3 L1481.45,932.81 L1486.14,924.24 L1490.04,913.96 L1493.17,903.34 L1497.08,887.04 L1508.8,828.23 L1513.49,807.84 L1516.62,796.85 L1519.74,788.03 L1522.87,781.18 L1525.99,776 L1529.9,771.38 L1534.59,767.8 L1539.28,765.61 L1545.53,764 L1553.35,763.06 L1563.5,762.61 L1597.89,762.75 L1607.27,763.3 L1614.3,764.24 L1620.55,765.84 L1625.24,767.88 L1629.93,771.06 L1633.84,775 L1637.75,780.57 L1640.87,786.54 L1646.34,801.03 L1651.81,821.43 L1656.5,843.25 L1667.44,898.98 L1673.7,924.95 L1677.6,937.26 L1681.51,946.67 L1686.2,954.74 L1690.89,960.13 L1695.58,963.64 L1701.05,966.18 L1708.08,967.96 L1716.68,968.98 L1740.12,969.65 L1821.4,969.72" fill="none" stroke="#5ee6d6" stroke-width="4.3" stroke-linejoin="round" stroke-linecap="butt" stroke-dasharray="21,23" />
<path d="M1196.2,946.8 L1498.64,946.71 L1510.36,946.42 L1518.96,945.74 L1525.21,944.57 L1529.9,942.92 L1533.03,941.21 L1536.15,938.77 L1540.84,933.16 L1545.53,924.12 L1549.44,913.03 L1552.56,901.42 L1555.69,887.4 L1566.63,828.87 L1570.54,810.33 L1574.45,795.46 L1579.13,782.58 L1581.48,777.93 L1584.61,773.2 L1587.73,769.8 L1590.86,767.42 L1594.76,765.45 L1598.67,764.27 L1604.14,763.48 L1609.61,763.41 L1615.08,763.97 L1620.55,765.28 L1625.24,767.25 L1629.15,769.78 L1633.06,773.44 L1636.18,777.46 L1639.31,782.72 L1642.44,789.49 L1647.13,802.99 L1651.81,820.9 L1656.5,842.8 L1667.44,898.72 L1673.7,924.79 L1677.6,937.15 L1681.51,946.59 L1685.42,953.55 L1690.11,959.34 L1694.8,963.13 L1700.27,965.88 L1707.3,967.81 L1715.9,968.92 L1739.34,969.64 L1821.4,969.72" fill="none" stroke="#a65cf2" stroke-width="4.3" stroke-linejoin="round" stroke-linecap="butt" />
<path d="M1196.2,946.8 L1407.99,946.63 L1418.93,946.25 L1426.74,945.53 L1432.99,944.34 L1438.46,942.45 L1441.59,940.78 L1444.72,938.51 L1447.84,935.43 L1450.19,932.45 L1454.88,924.27 L1458.78,914.66 L1461.91,904.84 L1465.82,889.85 L1479.1,827.27 L1484.57,805.26 L1487.7,795.27 L1491.61,785.47 L1494.73,779.54 L1498.64,774.06 L1503.33,769.65 L1508.02,766.86 L1514.27,764.71 L1521.3,763.5 L1530.68,762.8 L1544.75,762.48 L1597.89,762.75 L1607.27,763.3 L1614.3,764.24 L1620.55,765.84 L1625.24,767.88 L1629.93,771.06 L1633.84,775 L1637.75,780.57 L1640.87,786.54 L1646.34,801.03 L1651.81,821.43 L1656.5,843.25 L1667.44,898.98 L1673.7,924.95 L1677.6,937.26 L1681.51,946.67 L1686.2,954.74 L1690.89,960.13 L1695.58,963.64 L1701.05,966.18 L1708.08,967.96 L1716.68,968.98 L1740.12,969.65 L1821.4,969.72" fill="none" stroke="#6c2629" stroke-width="4.3" stroke-linejoin="round" stroke-linecap="butt" stroke-dasharray="21,23" />
<path d="M1196.2,982.45 L1498.64,982.55 L1510.36,982.87 L1518.18,983.52 L1524.43,984.7 L1529.12,986.4 L1533.03,988.76 L1536.15,991.63 L1539.28,995.81 L1541.62,1000.15 L1545.53,1010.74 L1549.44,1027.65 L1552.56,1048.22 L1554.91,1069.58 L1558.03,1109.22 L1560.38,1150.39 L1561.16,1155.63 L1564.29,1145.34 L1567.41,1131.46 L1570.54,1112.72 L1572.88,1094.48 L1576.79,1053.28 L1581.48,983.51 L1821.4,983.51" fill="none" stroke="#2e2e2e" stroke-width="4.3" stroke-linejoin="round" stroke-linecap="butt" />
<path d="M1196.2,1003.26 L1477.54,1003.36 L1488.48,1003.68 L1496.3,1004.4 L1501.77,1005.56 L1506.46,1007.46 L1509.58,1009.53 L1512.71,1012.61 L1515.05,1015.89 L1517.4,1020.3 L1521.3,1031.36 L1525.21,1049.6 L1528.34,1072.39 L1530.68,1096.58 L1533.03,1129.23 L1536.15,1182.35 L1541.62,1180.51 L1546.31,1177.95 L1550.22,1174.73 L1554.13,1170.05 L1557.25,1164.82 L1560.38,1157.75 L1563.5,1148.21 L1565.85,1138.92 L1568.19,1127.29 L1570.54,1112.72 L1574.45,1079.82 L1577.57,1043.02 L1581.48,983.51 L1821.4,983.51" fill="none" stroke="#f72525" stroke-width="4.3" stroke-linejoin="round" stroke-linecap="butt" />
<path d="M1196.2,1003.26 L1471.29,1003.36 L1482.23,1003.68 L1490.04,1004.4 L1495.51,1005.56 L1500.2,1007.46 L1503.33,1009.53 L1506.46,1012.61 L1508.8,1015.89 L1511.14,1020.3 L1515.05,1031.36 L1518.96,1049.6 L1522.09,1072.39 L1524.43,1096.58 L1526.77,1129.23 L1529.9,1183.56 L1536.93,1182.15 L1542.4,1180.16 L1547.09,1177.4 L1551.78,1173.07 L1555.69,1167.63 L1558.82,1161.55 L1561.94,1153.34 L1564.29,1145.34 L1566.63,1135.33 L1568.98,1122.79 L1571.32,1107.09 L1573.66,1087.42 L1577.57,1043.02 L1581.48,983.51 L1821.4,983.51" fill="none" stroke="#3360f5" stroke-width="4.3" stroke-linejoin="round" stroke-linecap="butt" />
<path d="M1196.2,1003.26 L1437.68,1003.4 L1447.84,1003.74 L1455.66,1004.48 L1461.91,1005.85 L1466.6,1007.81 L1469.72,1009.88 L1472.85,1012.89 L1475.98,1017.27 L1478.32,1021.82 L1482.23,1032.93 L1486.14,1050.67 L1489.26,1072.25 L1491.61,1094.65 L1494.73,1136.24 L1497.08,1179.43 L1497.86,1184.95 L1514.27,1184.69 L1525.21,1184.09 L1533.81,1182.89 L1540.84,1180.84 L1546.31,1177.95 L1551,1173.93 L1554.91,1168.89 L1558.82,1161.55 L1561.94,1153.34 L1565.07,1142.25 L1568.19,1127.29 L1570.54,1112.72 L1572.88,1094.48 L1576.79,1053.28 L1581.48,983.51 L1821.4,983.51" fill="none" stroke="#46b257" stroke-width="4.3" stroke-linejoin="round" stroke-linecap="butt" />
<path d="M1196.2,1003.26 L1372.82,1003.54 L1383.76,1004.08 L1392.36,1005.13 L1398.61,1006.67 L1404.08,1009.03 L1407.99,1011.65 L1411.11,1014.59 L1414.24,1018.55 L1417.36,1023.91 L1422.05,1035.64 L1424.4,1043.81 L1426.74,1054.05 L1430.65,1077.16 L1433.78,1103.01 L1436.9,1137.91 L1440.03,1185.02 L1514.27,1184.69 L1525.21,1184.09 L1533.81,1182.89 L1540.84,1180.84 L1546.31,1177.95 L1551,1173.93 L1554.91,1168.89 L1558.82,1161.55 L1561.94,1153.34 L1565.07,1142.25 L1568.19,1127.29 L1570.54,1112.72 L1572.88,1094.48 L1576.79,1053.28 L1581.48,983.51 L1821.4,983.51" fill="none" stroke="#cb9620" stroke-width="4.3" stroke-linejoin="round" stroke-linecap="butt" stroke-dasharray="21,23" />
<path d="M1196.2,1003.26 L1310.3,1003.29 L1339.21,1003.68 L1350.16,1004.35 L1357.97,1005.42 L1365,1007.25 L1370.47,1009.69 L1374.38,1012.31 L1378.29,1015.98 L1381.42,1019.97 L1384.54,1025.21 L1387.67,1032.1 L1390.01,1038.64 L1394.7,1056.53 L1398.61,1078.17 L1402.52,1108.6 L1405.64,1141.63 L1408.77,1185.02 L1514.27,1184.69 L1525.21,1184.09 L1533.81,1182.89 L1540.84,1180.84 L1546.31,1177.95 L1551,1173.93 L1554.91,1168.89 L1558.82,1161.55 L1561.94,1153.34 L1565.07,1142.25 L1568.19,1127.29 L1570.54,1112.72 L1572.88,1094.48 L1576.79,1053.28 L1581.48,983.51 L1821.4,983.51" fill="none" stroke="#5ee6d6" stroke-width="4.3" stroke-linejoin="round" stroke-linecap="butt" stroke-dasharray="21,23" />
<path d="M1196.2,1005.9 L1411.11,1006.08 L1422.05,1006.51 L1429.87,1007.38 L1436.12,1008.9 L1440.81,1011 L1443.94,1013.16 L1447.06,1016.23 L1450.19,1020.6 L1452.53,1025.06 L1456.44,1035.68 L1460.35,1052.2 L1463.47,1071.79 L1466.6,1099.68 L1469.72,1139.38 L1472.07,1179.83 L1472.85,1185.01 L1515.83,1184.64 L1526.77,1183.94 L1534.59,1182.73 L1540.84,1180.84 L1546.31,1177.95 L1551,1173.93 L1554.91,1168.89 L1558.82,1161.55 L1561.94,1153.34 L1565.07,1142.25 L1568.19,1127.29 L1570.54,1112.72 L1572.88,1094.48 L1576.79,1053.28 L1581.48,983.51 L1821.4,983.51" fill="none" stroke="#a65cf2" stroke-width="4.3" stroke-linejoin="round" stroke-linecap="butt" />
<path d="M1196.2,1005.9 L1286.85,1006.01 L1314.99,1006.92 L1325.15,1008.2 L1333.74,1010.48 L1340.78,1013.94 L1346.25,1018.35 L1349.37,1021.88 L1352.5,1026.42 L1355.63,1032.25 L1357.97,1037.68 L1362.66,1052.14 L1366.57,1069.11 L1370.47,1092.29 L1373.6,1116.83 L1379.85,1185.02 L1489.26,1184.99 L1515.83,1184.64 L1526.77,1183.94 L1534.59,1182.73 L1540.84,1180.84 L1546.31,1177.95 L1551,1173.93 L1554.91,1168.89 L1558.82,1161.55 L1561.94,1153.34 L1565.07,1142.25 L1568.19,1127.29 L1570.54,1112.72 L1572.88,1094.48 L1576.79,1053.28 L1581.48,983.51 L1821.4,983.51" fill="none" stroke="#6c2629" stroke-width="4.3" stroke-linejoin="round" stroke-linecap="butt" stroke-dasharray="21,23" />
<line x1="166.3" y1="1304.2" x2="897" y2="1304.2" stroke="#000" stroke-width="3" />
<line x1="166.3" y1="1778.1" x2="897" y2="1778.1" stroke="#000" stroke-width="3" />
<line x1="167.8" y1="1304.2" x2="167.8" y2="1778.1" stroke="#000" stroke-width="3" />
<line x1="895.5" y1="1304.2" x2="895.5" y2="1778.1" stroke="#000" stroke-width="3" />
<line x1="223.67" y1="1778.1" x2="223.67" y2="1768.1" stroke="#000" stroke-width="3" />
<text transform="translate(223.67,1810.6) scale(1.0,1.08)" font-family="'Liberation Sans', Arial, sans-serif" font-size="27" font-weight="bold" fill="#000" text-anchor="middle" >245</text>
<line x1="335.42" y1="1778.1" x2="335.42" y2="1768.1" stroke="#000" stroke-width="3" />
<text transform="translate(335.42,1810.6) scale(1.0,1.08)" font-family="'Liberation Sans', Arial, sans-serif" font-size="27" font-weight="bold" fill="#000" text-anchor="middle" >250</text>
<line x1="447.17" y1="1778.1" x2="447.17" y2="1768.1" stroke="#000" stroke-width="3" />
<text transform="translate(447.17,1810.6) scale(1.0,1.08)" font-family="'Liberation Sans', Arial, sans-serif" font-size="27" font-weight="bold" fill="#000" text-anchor="middle" >255</text>
<line x1="558.92" y1="1778.1" x2="558.92" y2="1768.1" stroke="#000" stroke-width="3" />
<text transform="translate(558.92,1810.6) scale(1.0,1.08)" font-family="'Liberation Sans', Arial, sans-serif" font-size="27" font-weight="bold" fill="#000" text-anchor="middle" >260</text>
<line x1="670.66" y1="1778.1" x2="670.66" y2="1768.1" stroke="#000" stroke-width="3" />
<text transform="translate(670.66,1810.6) scale(1.0,1.08)" font-family="'Liberation Sans', Arial, sans-serif" font-size="27" font-weight="bold" fill="#000" text-anchor="middle" >265</text>
<line x1="782.41" y1="1778.1" x2="782.41" y2="1768.1" stroke="#000" stroke-width="3" />
<text transform="translate(782.41,1810.6) scale(1.0,1.08)" font-family="'Liberation Sans', Arial, sans-serif" font-size="27" font-weight="bold" fill="#000" text-anchor="middle" >270</text>
<line x1="894.16" y1="1778.1" x2="894.16" y2="1768.1" stroke="#000" stroke-width="3" />
<text transform="translate(894.16,1810.6) scale(1.0,1.08)" font-family="'Liberation Sans', Arial, sans-serif" font-size="27" font-weight="bold" fill="#000" text-anchor="middle" >275</text>
<line x1="167.8" y1="1304.2" x2="177.8" y2="1304.2" stroke="#000" stroke-width="3" />
<text transform="translate(157.3,1313.6) scale(1.0,1.08)" font-family="'Liberation Sans', Arial, sans-serif" font-size="27" font-weight="bold" fill="#000" text-anchor="end" >1200</text>
<line x1="167.8" y1="1382.5" x2="177.8" y2="1382.5" stroke="#000" stroke-width="3" />
<text transform="translate(157.3,1391.9) scale(1.0,1.08)" font-family="'Liberation Sans', Arial, sans-serif" font-size="27" font-weight="bold" fill="#000" text-anchor="end" >800</text>
<line x1="167.8" y1="1461.8" x2="177.8" y2="1461.8" stroke="#000" stroke-width="3" />
<text transform="translate(157.3,1471.2) scale(1.0,1.08)" font-family="'Liberation Sans', Arial, sans-serif" font-size="27" font-weight="bold" fill="#000" text-anchor="end" >400</text>
<line x1="167.8" y1="1541.1" x2="177.8" y2="1541.1" stroke="#000" stroke-width="3" />
<text transform="translate(157.3,1550.5) scale(1.0,1.08)" font-family="'Liberation Sans', Arial, sans-serif" font-size="27" font-weight="bold" fill="#000" text-anchor="end" >0</text>
<line x1="167.8" y1="1620.5" x2="177.8" y2="1620.5" stroke="#000" stroke-width="3" />
<text transform="translate(157.3,1629.9) scale(1.0,1.08)" font-family="'Liberation Sans', Arial, sans-serif" font-size="27" font-weight="bold" fill="#000" text-anchor="end" >-400</text>
<line x1="167.8" y1="1699.3" x2="177.8" y2="1699.3" stroke="#000" stroke-width="3" />
<text transform="translate(157.3,1708.7) scale(1.0,1.08)" font-family="'Liberation Sans', Arial, sans-serif" font-size="27" font-weight="bold" fill="#000" text-anchor="end" >-800</text>
<line x1="167.8" y1="1778.1" x2="177.8" y2="1778.1" stroke="#000" stroke-width="3" />
<text transform="translate(157.3,1787.5) scale(1.0,1.08)" font-family="'Liberation Sans', Arial, sans-serif" font-size="27" font-weight="bold" fill="#000" text-anchor="end" >-1200</text>
<text transform="translate(95.8,1531.5) rotate(-90)" font-family="'Liberation Sans', Arial, sans-serif" font-size="43" font-weight="bold" fill="#000" text-anchor="middle">&#916;S<tspan dy="6">r</tspan><tspan dy="-6"> (J kg</tspan><tspan dy="-12">-1</tspan><tspan dy="12">K</tspan><tspan dy="-12">-1</tspan><tspan dy="12">)</tspan></text>
<text transform="translate(239.45,1416.95) scale(1.014,1)" font-family="'Liberation Sans', Arial, sans-serif" font-size="85.1" font-weight="bold">e</text>
<text x="531.65" y="1845" font-family="'Liberation Sans', Arial, sans-serif" font-size="41" font-weight="bold" fill="#000" text-anchor="middle" >T (K)</text>
<text x="252.6" y="1593.9" font-family="'Liberation Sans', Arial, sans-serif" font-size="31" font-weight="bold" fill="#000" text-anchor="start" >P(GPa)</text>
<text x="252.6" y="1631.7" font-family="'Liberation Sans', Arial, sans-serif" font-size="31" font-weight="bold" fill="#000" text-anchor="start" >0.02,<tspan fill="#f72525">0.04</tspan>,<tspan fill="#3360f5">0.06</tspan>,</text>
<text x="252.6" y="1669.5" font-family="'Liberation Sans', Arial, sans-serif" font-size="31" font-weight="bold" fill="#000" text-anchor="start" ><tspan fill="#46b257">0.08</tspan>,<tspan fill="#a65cf2">0.1</tspan>,<tspan fill="#cb9620">0.13</tspan>,</text>
<text x="252.6" y="1707.3" font-family="'Liberation Sans', Arial, sans-serif" font-size="31" font-weight="bold" fill="#000" text-anchor="start" ><tspan fill="#5ee6d6">0.16</tspan>,<tspan fill="#6b2b2b">0.19</tspan></text>
<path d="M223.67,1541.1 L827.11,1541.1" fill="none" stroke="#a65cf2" stroke-width="4.5" stroke-linejoin="round" stroke-linecap="butt" />
<path d="M475.6,1541.1 L497.4,1541.1" fill="none" stroke="#5ee6d6" stroke-width="4.5" stroke-linejoin="round" stroke-linecap="butt" />
<path d="M223.67,1541.1 L827.11,1541.1" fill="none" stroke="#6c2629" stroke-width="4.5" stroke-linejoin="round" stroke-linecap="butt" stroke-dasharray="21,23" stroke-dashoffset="-8"/>
<path d="M490.2,1523.9 L478.39,1535.87 L476.41,1538.52 L475.6,1541.1 L475.82,1542.36 L477.3,1544.89 L490.2,1559.4" fill="none" stroke="#6c2629" stroke-width="3.5" stroke-linejoin="round" stroke-linecap="butt" />
<path d="M497.4,1519.8 L499.5,1530 L500,1541.5 L499.5,1553 L497.4,1563.4" fill="none" stroke="#6c2629" stroke-width="3.5" stroke-linejoin="round" stroke-linecap="butt" />
<line x1="1142.5" y1="1302.7" x2="1872.5" y2="1302.7" stroke="#000" stroke-width="3" />
<line x1="1142.5" y1="1776.5" x2="1872.5" y2="1776.5" stroke="#000" stroke-width="3" />
<line x1="1144" y1="1302.7" x2="1144" y2="1776.5" stroke="#000" stroke-width="3" />
<line x1="1871" y1="1302.7" x2="1871" y2="1776.5" stroke="#000" stroke-width="3" />
<line x1="1204.58" y1="1776.5" x2="1204.58" y2="1766.5" stroke="#000" stroke-width="3" />
<text transform="translate(1204.58,1809) scale(1.0,1.08)" font-family="'Liberation Sans', Arial, sans-serif" font-size="28" font-weight="bold" fill="#000" text-anchor="middle" >230</text>
<line x1="1325.75" y1="1776.5" x2="1325.75" y2="1766.5" stroke="#000" stroke-width="3" />
<text transform="translate(1325.75,1809) scale(1.0,1.08)" font-family="'Liberation Sans', Arial, sans-serif" font-size="28" font-weight="bold" fill="#000" text-anchor="middle" >240</text>
<line x1="1446.92" y1="1776.5" x2="1446.92" y2="1766.5" stroke="#000" stroke-width="3" />
<text transform="translate(1446.92,1809) scale(1.0,1.08)" font-family="'Liberation Sans', Arial, sans-serif" font-size="28" font-weight="bold" fill="#000" text-anchor="middle" >250</text>
<line x1="1568.08" y1="1776.5" x2="1568.08" y2="1766.5" stroke="#000" stroke-width="3" />
<text transform="translate(1568.08,1809) scale(1.0,1.08)" font-family="'Liberation Sans', Arial, sans-serif" font-size="28" font-weight="bold" fill="#000" text-anchor="middle" >260</text>
<line x1="1689.25" y1="1776.5" x2="1689.25" y2="1766.5" stroke="#000" stroke-width="3" />
<text transform="translate(1689.25,1809) scale(1.0,1.08)" font-family="'Liberation Sans', Arial, sans-serif" font-size="28" font-weight="bold" fill="#000" text-anchor="middle" >270</text>
<line x1="1810.42" y1="1776.5" x2="1810.42" y2="1766.5" stroke="#000" stroke-width="3" />
<text transform="translate(1810.42,1809) scale(1.0,1.08)" font-family="'Liberation Sans', Arial, sans-serif" font-size="28" font-weight="bold" fill="#000" text-anchor="middle" >280</text>
<line x1="1144" y1="1302.7" x2="1154" y2="1302.7" stroke="#000" stroke-width="3" />
<text transform="translate(1132.6,1312.1) scale(1.0,1.08)" font-family="'Liberation Sans', Arial, sans-serif" font-size="28" font-weight="bold" fill="#000" text-anchor="end" >1200</text>
<line x1="1144" y1="1381.5" x2="1154" y2="1381.5" stroke="#000" stroke-width="3" />
<text transform="translate(1132.6,1390.9) scale(1.0,1.08)" font-family="'Liberation Sans', Arial, sans-serif" font-size="28" font-weight="bold" fill="#000" text-anchor="end" >800</text>
<line x1="1144" y1="1460.8" x2="1154" y2="1460.8" stroke="#000" stroke-width="3" />
<text transform="translate(1132.6,1470.2) scale(1.0,1.08)" font-family="'Liberation Sans', Arial, sans-serif" font-size="28" font-weight="bold" fill="#000" text-anchor="end" >400</text>
<line x1="1144" y1="1539.6" x2="1154" y2="1539.6" stroke="#000" stroke-width="3" />
<text transform="translate(1132.6,1549) scale(1.0,1.08)" font-family="'Liberation Sans', Arial, sans-serif" font-size="28" font-weight="bold" fill="#000" text-anchor="end" >0</text>
<line x1="1144" y1="1618.9" x2="1154" y2="1618.9" stroke="#000" stroke-width="3" />
<text transform="translate(1132.6,1628.3) scale(1.0,1.08)" font-family="'Liberation Sans', Arial, sans-serif" font-size="28" font-weight="bold" fill="#000" text-anchor="end" >-400</text>
<line x1="1144" y1="1697.7" x2="1154" y2="1697.7" stroke="#000" stroke-width="3" />
<text transform="translate(1132.6,1707.1) scale(1.0,1.08)" font-family="'Liberation Sans', Arial, sans-serif" font-size="28" font-weight="bold" fill="#000" text-anchor="end" >-800</text>
<line x1="1144" y1="1776.5" x2="1154" y2="1776.5" stroke="#000" stroke-width="3" />
<text transform="translate(1132.6,1785.9) scale(1.0,1.08)" font-family="'Liberation Sans', Arial, sans-serif" font-size="28" font-weight="bold" fill="#000" text-anchor="end" >-1200</text>
<text transform="translate(1065.1,1530) rotate(-90)" font-family="'Liberation Sans', Arial, sans-serif" font-size="43" font-weight="bold" fill="#000" text-anchor="middle">&#916;S<tspan dy="11">r</tspan><tspan dy="-11"> (J kg</tspan><tspan dy="-18">-1</tspan><tspan dy="18">K</tspan><tspan dy="-18">-1</tspan><tspan dy="18">)</tspan></text>
<text transform="translate(1215.83,1415.2) scale(1.098,1)" font-family="'Liberation Sans', Arial, sans-serif" font-size="85.2" font-weight="bold">f</text>
<text x="1507.5" y="1843" font-family="'Liberation Sans', Arial, sans-serif" font-size="41" font-weight="bold" fill="#000" text-anchor="middle" >T (K)</text>
<path d="M1204.58,1539.6 L1810.42,1539.6" fill="none" stroke="#2e2e2e" stroke-width="4.2" stroke-linejoin="round" stroke-linecap="butt" />
<path d="M1204.58,1539.6 L1810.42,1539.6" fill="none" stroke="#2e2e2e" stroke-width="4.2" stroke-linejoin="round" stroke-linecap="butt" />
<path d="M1204.58,1539.6 L1638,1539.6 L1648.51,1537.42 L1649.41,1537.89 L1650,1539.6 L1810.42,1539.6" fill="none" stroke="#f72525" stroke-width="4.2" stroke-linejoin="round" stroke-linecap="butt" />
<path d="M1204.58,1539.6 L1638,1539.6 L1648.51,1541.78 L1649.41,1541.31 L1650,1539.6 L1810.42,1539.6" fill="none" stroke="#f72525" stroke-width="4.2" stroke-linejoin="round" stroke-linecap="butt" />
<path d="M1204.58,1539.6 L1600,1539.6 L1622.99,1538.14 L1632.5,1537.16 L1638.09,1536.03 L1643,1534.5 L1647.12,1532 L1647.88,1532.19 L1648.75,1533.62 L1649.64,1536.49 L1650,1539.6 L1810.42,1539.6" fill="none" stroke="#3360f5" stroke-width="4.2" stroke-linejoin="round" stroke-linecap="butt" />
<path d="M1204.58,1539.6 L1600,1539.6 L1622.99,1541.06 L1632.5,1542.04 L1638.09,1543.17 L1643,1544.7 L1647.12,1547.2 L1647.88,1547.01 L1648.75,1545.58 L1649.64,1542.71 L1650,1539.6 L1810.42,1539.6" fill="none" stroke="#3360f5" stroke-width="4.2" stroke-linejoin="round" stroke-linecap="butt" />
<path d="M1204.58,1539.6 L1579.6,1539.6 L1598.03,1538.2 L1606.49,1536.68 L1610,1535.5 L1613.07,1533.96 L1615.97,1532.08 L1621.28,1527.62 L1630,1518 L1634.68,1511.11 L1640.93,1498 L1645.5,1486 L1647.12,1479.13 L1647.71,1481.58 L1648.5,1493.56 L1650,1539.6 L1810.42,1539.6" fill="none" stroke="#46b257" stroke-width="4.2" stroke-linejoin="round" stroke-linecap="butt" />
<path d="M1204.58,1539.6 L1579.6,1539.6 L1598.03,1541 L1606.49,1542.52 L1610,1543.7 L1613.07,1545.24 L1615.97,1547.12 L1621.28,1551.58 L1630,1561.2 L1634.68,1568.09 L1640.93,1581.2 L1645.5,1593.2 L1647.12,1600.07 L1647.71,1597.62 L1648.5,1585.64 L1650,1539.6 L1810.42,1539.6" fill="none" stroke="#46b257" stroke-width="4.2" stroke-linejoin="round" stroke-linecap="butt" />
<path d="M1204.58,1539.6 L1535,1539.6 L1551.51,1533 L1562.01,1527.92 L1565.02,1525.83 L1569.98,1521.34 L1576.76,1513.46 L1579.6,1508.7 L1581.81,1503.59 L1584.35,1495.04 L1588.57,1475.17 L1600.61,1403.28 L1606.96,1368.59 L1609.19,1360.97 L1611.66,1356.38 L1615.82,1352.36 L1617.45,1351.53 L1619.07,1351.24 L1621.4,1351.7 L1624.14,1353.54 L1626.22,1356.52 L1630.46,1364.59 L1633.31,1373.24 L1636.45,1389.16 L1642.05,1427.4 L1645.54,1460.08 L1649.1,1506.43 L1650.2,1539.6 L1810.42,1539.6" fill="none" stroke="#cb9620" stroke-width="4.2" stroke-linejoin="round" stroke-linecap="butt" stroke-dasharray="21,23" />
<path d="M1204.58,1539.6 L1535,1539.6 L1551.51,1546.2 L1562.01,1551.28 L1565.02,1553.37 L1569.98,1557.86 L1576.76,1565.74 L1579.6,1570.5 L1581.81,1575.61 L1584.35,1584.16 L1588.57,1604.03 L1600.61,1675.92 L1606.96,1710.61 L1609.19,1718.23 L1611.66,1722.82 L1615.82,1726.84 L1617.45,1727.67 L1619.07,1727.96 L1621.4,1727.5 L1624.14,1725.66 L1626.22,1722.68 L1630.46,1714.61 L1633.31,1705.96 L1636.45,1690.04 L1642.05,1651.8 L1645.54,1619.12 L1649.1,1572.77 L1650.2,1539.6 L1810.42,1539.6" fill="none" stroke="#cb9620" stroke-width="4.2" stroke-linejoin="round" stroke-linecap="butt" stroke-dasharray="21,23" />
<path d="M1204.58,1539.6 L1486,1539.6 L1514.42,1533.82 L1522.21,1531.77 L1526.48,1530.21 L1534.26,1524.38 L1540.06,1518.65 L1545,1511.5 L1548.23,1503.6 L1550.57,1494.03 L1553.08,1480.47 L1558.36,1441.67 L1564.27,1408.83 L1570.77,1379.8 L1577.18,1359.17 L1581.65,1348.57 L1583.45,1345.46 L1585.47,1343.29 L1588.2,1341.6 L1591.91,1340.34 L1598.63,1339.65 L1605.5,1340.2 L1612.37,1341.7 L1619.08,1344.49 L1622.8,1347.4 L1625.65,1351.41 L1627.87,1356.37 L1634.53,1377.41 L1637.2,1392 L1640.93,1426.55 L1644.81,1472.31 L1649.5,1539.6 L1810.42,1539.6" fill="none" stroke="#5ee6d6" stroke-width="4.2" stroke-linejoin="round" stroke-linecap="butt" stroke-dasharray="21,23" />
<path d="M1204.58,1539.6 L1486,1539.6 L1514.42,1545.38 L1522.21,1547.43 L1526.48,1548.99 L1534.26,1554.82 L1540.06,1560.55 L1545,1567.7 L1548.23,1575.6 L1550.57,1585.17 L1553.08,1598.73 L1558.36,1637.53 L1564.27,1670.37 L1570.77,1699.4 L1577.18,1720.03 L1581.65,1730.63 L1583.45,1733.74 L1585.47,1735.91 L1588.2,1737.6 L1591.91,1738.86 L1598.63,1739.55 L1605.5,1739 L1612.37,1737.5 L1619.08,1734.71 L1622.8,1731.8 L1625.65,1727.79 L1627.87,1722.83 L1634.53,1701.79 L1637.2,1687.2 L1640.93,1652.65 L1644.81,1606.89 L1649.5,1539.6 L1810.42,1539.6" fill="none" stroke="#5ee6d6" stroke-width="4.2" stroke-linejoin="round" stroke-linecap="butt" stroke-dasharray="21,23" />
<path d="M1204.58,1539.6 L1575.3,1539.6 L1589.19,1533.31 L1596.04,1528.77 L1599.9,1525.7 L1603.5,1522.12 L1606.84,1517.39 L1608.4,1514.4 L1612.63,1502.69 L1618.5,1478.4 L1629.47,1414.18 L1632.27,1404.17 L1633.41,1401.71 L1634.5,1401 L1636.01,1403.5 L1637.98,1412.07 L1640.19,1425.93 L1642.48,1444.76 L1644.43,1468.11 L1649,1539.6 L1810.42,1539.6" fill="none" stroke="#a65cf2" stroke-width="4.2" stroke-linejoin="round" stroke-linecap="butt" />
<path d="M1204.58,1539.6 L1575.3,1539.6 L1589.19,1545.89 L1596.04,1550.43 L1599.9,1553.5 L1603.5,1557.08 L1606.84,1561.81 L1608.4,1564.8 L1612.63,1576.51 L1618.5,1600.8 L1629.47,1665.02 L1632.27,1675.02 L1633.41,1677.49 L1634.5,1678.2 L1636.01,1675.7 L1637.98,1667.13 L1640.19,1653.27 L1642.48,1634.44 L1644.43,1611.09 L1649,1539.6 L1810.42,1539.6" fill="none" stroke="#a65cf2" stroke-width="4.2" stroke-linejoin="round" stroke-linecap="butt" />
<path d="M1204.58,1539.6 L1473,1539.6 L1494.58,1530.19 L1503.83,1520.81 L1509.04,1514.05 L1512.93,1506.17 L1515.99,1497.12 L1521.18,1475.77 L1534.15,1407.17 L1540.02,1379.76 L1543.84,1364.2 L1547.87,1352.82 L1550.69,1347.92 L1553.59,1344.51 L1558,1340.9 L1561.4,1339.03 L1593,1337.97 L1602.45,1338.27 L1609.27,1339.29 L1614.21,1340.82 L1619.66,1344.22 L1624.29,1349.34 L1626.77,1353.91 L1628.8,1359.14 L1633.85,1374.91 L1635.84,1383.44 L1637.2,1392 L1640.93,1426.55 L1644.81,1472.31 L1649.5,1539.6 L1810.42,1539.6" fill="none" stroke="#6c2629" stroke-width="4.2" stroke-linejoin="round" stroke-linecap="butt" stroke-dasharray="21,23" />
<path d="M1204.58,1539.6 L1473,1539.6 L1494.58,1549.01 L1503.83,1558.39 L1509.04,1565.15 L1512.93,1573.03 L1515.99,1582.08 L1521.18,1603.43 L1534.15,1672.03 L1540.02,1699.44 L1543.84,1715 L1547.87,1726.38 L1550.69,1731.28 L1553.59,1734.69 L1558,1738.3 L1561.4,1740.17 L1593,1741.23 L1602.45,1740.93 L1609.27,1739.91 L1614.21,1738.38 L1619.66,1734.98 L1624.29,1729.86 L1626.77,1725.29 L1628.8,1720.06 L1633.85,1704.29 L1635.84,1695.76 L1637.2,1687.2 L1640.93,1652.65 L1644.81,1606.89 L1649.5,1539.6 L1810.42,1539.6" fill="none" stroke="#6c2629" stroke-width="4.2" stroke-linejoin="round" stroke-linecap="butt" stroke-dasharray="21,23" />
<path d="M1647,1539.6 L1655,1532 L1663,1539.6 L1655,1547.2 L1647,1539.6" fill="none" stroke="#6c2629" stroke-width="3.8" stroke-linejoin="round" stroke-linecap="butt" />
<line x1="162.6" y1="1874.4" x2="897.6" y2="1874.4" stroke="#000" stroke-width="3" />
<line x1="162.6" y1="2349.2" x2="897.6" y2="2349.2" stroke="#000" stroke-width="3" />
<line x1="164.1" y1="1874.4" x2="164.1" y2="2349.2" stroke="#000" stroke-width="3" />
<line x1="896.1" y1="1874.4" x2="896.1" y2="2349.2" stroke="#000" stroke-width="3" />
<line x1="164.1" y1="2349.2" x2="164.1" y2="2339.2" stroke="#000" stroke-width="3" />
<text transform="translate(164.1,2381.7) scale(1.0,1.08)" font-family="'Liberation Sans', Arial, sans-serif" font-size="27" font-weight="bold" fill="#000" text-anchor="middle" >200</text>
<line x1="310.5" y1="2349.2" x2="310.5" y2="2339.2" stroke="#000" stroke-width="3" />
<text transform="translate(310.5,2381.7) scale(1.0,1.08)" font-family="'Liberation Sans', Arial, sans-serif" font-size="27" font-weight="bold" fill="#000" text-anchor="middle" >220</text>
<line x1="456.9" y1="2349.2" x2="456.9" y2="2339.2" stroke="#000" stroke-width="3" />
<text transform="translate(456.9,2381.7) scale(1.0,1.08)" font-family="'Liberation Sans', Arial, sans-serif" font-size="27" font-weight="bold" fill="#000" text-anchor="middle" >240</text>
<line x1="603.3" y1="2349.2" x2="603.3" y2="2339.2" stroke="#000" stroke-width="3" />
<text transform="translate(603.3,2381.7) scale(1.0,1.08)" font-family="'Liberation Sans', Arial, sans-serif" font-size="27" font-weight="bold" fill="#000" text-anchor="middle" >260</text>
<line x1="749.7" y1="2349.2" x2="749.7" y2="2339.2" stroke="#000" stroke-width="3" />
<text transform="translate(749.7,2381.7) scale(1.0,1.08)" font-family="'Liberation Sans', Arial, sans-serif" font-size="27" font-weight="bold" fill="#000" text-anchor="middle" >280</text>
<line x1="896.1" y1="2349.2" x2="896.1" y2="2339.2" stroke="#000" stroke-width="3" />
<text transform="translate(896.1,2381.7) scale(1.0,1.08)" font-family="'Liberation Sans', Arial, sans-serif" font-size="27" font-weight="bold" fill="#000" text-anchor="middle" >300</text>
<line x1="164.1" y1="1940.7" x2="174.1" y2="1940.7" stroke="#000" stroke-width="3" />
<text transform="translate(153.7,1950.1) scale(1.0,1.08)" font-family="'Liberation Sans', Arial, sans-serif" font-size="27" font-weight="bold" fill="#000" text-anchor="end" >8</text>
<line x1="164.1" y1="2026.3" x2="174.1" y2="2026.3" stroke="#000" stroke-width="3" />
<text transform="translate(153.7,2035.7) scale(1.0,1.08)" font-family="'Liberation Sans', Arial, sans-serif" font-size="27" font-weight="bold" fill="#000" text-anchor="end" >4</text>
<line x1="164.1" y1="2112.8" x2="174.1" y2="2112.8" stroke="#000" stroke-width="3" />
<text transform="translate(153.7,2122.2) scale(1.0,1.08)" font-family="'Liberation Sans', Arial, sans-serif" font-size="27" font-weight="bold" fill="#000" text-anchor="end" >0</text>
<line x1="164.1" y1="2198.4" x2="174.1" y2="2198.4" stroke="#000" stroke-width="3" />
<text transform="translate(153.7,2207.8) scale(1.0,1.08)" font-family="'Liberation Sans', Arial, sans-serif" font-size="27" font-weight="bold" fill="#000" text-anchor="end" >-4</text>
<line x1="164.1" y1="2284.4" x2="174.1" y2="2284.4" stroke="#000" stroke-width="3" />
<text transform="translate(153.7,2293.8) scale(1.0,1.08)" font-family="'Liberation Sans', Arial, sans-serif" font-size="27" font-weight="bold" fill="#000" text-anchor="end" >-8</text>
<text transform="translate(123.7,2114) rotate(-90)" font-family="'Liberation Sans', Arial, sans-serif" font-size="42" font-weight="bold" fill="#000" text-anchor="middle">&#916;T<tspan dy="7.5">r</tspan><tspan dy="-7.5"> (K)</tspan></text>
<text transform="translate(235.59,1983.61) scale(1.135,1)" font-family="'Liberation Sans', Arial, sans-serif" font-size="79.5" font-weight="bold">g</text>
<text x="530.1" y="2416" font-family="'Liberation Sans', Arial, sans-serif" font-size="41" font-weight="bold" fill="#000" text-anchor="middle" >T (K)</text>
<text x="250" y="2168.8" font-family="'Liberation Sans', Arial, sans-serif" font-size="30" font-weight="bold" fill="#000" text-anchor="start" >P(GPa)</text>
<text x="250" y="2206" font-family="'Liberation Sans', Arial, sans-serif" font-size="30" font-weight="bold" fill="#000" text-anchor="start" >0.02,<tspan fill="#f72525">0.04</tspan>,<tspan fill="#3360f5">0.06</tspan>,</text>
<text x="250" y="2243.2" font-family="'Liberation Sans', Arial, sans-serif" font-size="30" font-weight="bold" fill="#000" text-anchor="start" ><tspan fill="#46b257">0.08</tspan>,<tspan fill="#a65cf2">0.1</tspan>,<tspan fill="#cb9620">0.13</tspan>,</text>
<text x="250" y="2280.4" font-family="'Liberation Sans', Arial, sans-serif" font-size="30" font-weight="bold" fill="#000" text-anchor="start" ><tspan fill="#5ee6d6">0.16</tspan>,<tspan fill="#6b2b2b">0.19</tspan></text>
<path d="M237.3,2112.8 L822.9,2112.8" fill="none" stroke="#a65cf2" stroke-width="3" stroke-linejoin="round" stroke-linecap="butt" />
<path d="M237.3,2112.8 L822.9,2112.8" fill="none" stroke="#5ee6d6" stroke-width="3.2" stroke-linejoin="round" stroke-linecap="butt" stroke-dasharray="12,32" stroke-dashoffset="17"/>
<path d="M237.3,2112.8 L822.9,2112.8" fill="none" stroke="#6c2629" stroke-width="3.8" stroke-linejoin="round" stroke-linecap="butt" stroke-dasharray="21,23" />
<line x1="1156.4" y1="1888.1" x2="1861.7" y2="1888.1" stroke="#000" stroke-width="3" />
<line x1="1156.4" y1="2345.4" x2="1861.7" y2="2345.4" stroke="#000" stroke-width="3" />
<line x1="1157.9" y1="1888.1" x2="1157.9" y2="2345.4" stroke="#000" stroke-width="3" />
<line x1="1860.2" y1="1888.1" x2="1860.2" y2="2345.4" stroke="#000" stroke-width="3" />
<line x1="1208.06" y1="2345.4" x2="1208.06" y2="2335.4" stroke="#000" stroke-width="3" />
<text transform="translate(1208.06,2377.9) scale(1.0,1.08)" font-family="'Liberation Sans', Arial, sans-serif" font-size="28" font-weight="bold" fill="#000" text-anchor="middle" >230</text>
<line x1="1308.39" y1="2345.4" x2="1308.39" y2="2335.4" stroke="#000" stroke-width="3" />
<text transform="translate(1308.39,2377.9) scale(1.0,1.08)" font-family="'Liberation Sans', Arial, sans-serif" font-size="28" font-weight="bold" fill="#000" text-anchor="middle" >240</text>
<line x1="1408.72" y1="2345.4" x2="1408.72" y2="2335.4" stroke="#000" stroke-width="3" />
<text transform="translate(1408.72,2377.9) scale(1.0,1.08)" font-family="'Liberation Sans', Arial, sans-serif" font-size="28" font-weight="bold" fill="#000" text-anchor="middle" >250</text>
<line x1="1509.05" y1="2345.4" x2="1509.05" y2="2335.4" stroke="#000" stroke-width="3" />
<text transform="translate(1509.05,2377.9) scale(1.0,1.08)" font-family="'Liberation Sans', Arial, sans-serif" font-size="28" font-weight="bold" fill="#000" text-anchor="middle" >260</text>
<line x1="1609.38" y1="2345.4" x2="1609.38" y2="2335.4" stroke="#000" stroke-width="3" />
<text transform="translate(1609.38,2377.9) scale(1.0,1.08)" font-family="'Liberation Sans', Arial, sans-serif" font-size="28" font-weight="bold" fill="#000" text-anchor="middle" >270</text>
<line x1="1709.71" y1="2345.4" x2="1709.71" y2="2335.4" stroke="#000" stroke-width="3" />
<text transform="translate(1709.71,2377.9) scale(1.0,1.08)" font-family="'Liberation Sans', Arial, sans-serif" font-size="28" font-weight="bold" fill="#000" text-anchor="middle" >280</text>
<line x1="1810.04" y1="2345.4" x2="1810.04" y2="2335.4" stroke="#000" stroke-width="3" />
<text transform="translate(1810.04,2377.9) scale(1.0,1.08)" font-family="'Liberation Sans', Arial, sans-serif" font-size="28" font-weight="bold" fill="#000" text-anchor="middle" >290</text>
<line x1="1157.9" y1="1950.7" x2="1167.9" y2="1950.7" stroke="#000" stroke-width="3" />
<text transform="translate(1147.9,1960.1) scale(1.0,1.08)" font-family="'Liberation Sans', Arial, sans-serif" font-size="28" font-weight="bold" fill="#000" text-anchor="end" >8</text>
<line x1="1157.9" y1="2033.5" x2="1167.9" y2="2033.5" stroke="#000" stroke-width="3" />
<text transform="translate(1147.9,2042.9) scale(1.0,1.08)" font-family="'Liberation Sans', Arial, sans-serif" font-size="28" font-weight="bold" fill="#000" text-anchor="end" >4</text>
<line x1="1157.9" y1="2116.7" x2="1167.9" y2="2116.7" stroke="#000" stroke-width="3" />
<text transform="translate(1147.9,2126.1) scale(1.0,1.08)" font-family="'Liberation Sans', Arial, sans-serif" font-size="28" font-weight="bold" fill="#000" text-anchor="end" >0</text>
<line x1="1157.9" y1="2199.5" x2="1167.9" y2="2199.5" stroke="#000" stroke-width="3" />
<text transform="translate(1147.9,2208.9) scale(1.0,1.08)" font-family="'Liberation Sans', Arial, sans-serif" font-size="28" font-weight="bold" fill="#000" text-anchor="end" >-4</text>
<line x1="1157.9" y1="2282.8" x2="1167.9" y2="2282.8" stroke="#000" stroke-width="3" />
<text transform="translate(1147.9,2292.2) scale(1.0,1.08)" font-family="'Liberation Sans', Arial, sans-serif" font-size="28" font-weight="bold" fill="#000" text-anchor="end" >-8</text>
<text transform="translate(1115.3,2116.5) rotate(-90)" font-family="'Liberation Sans', Arial, sans-serif" font-size="41.6" font-weight="bold" fill="#000" text-anchor="middle">&#916;T<tspan dy="9" font-size="30">r</tspan><tspan dy="-9"> (K)</tspan></text>
<text transform="translate(1227.48,1995.7) scale(1.020,1)" font-family="'Liberation Sans', Arial, sans-serif" font-size="81.5" font-weight="bold">h</text>
<text x="1509.05" y="2411" font-family="'Liberation Sans', Arial, sans-serif" font-size="41" font-weight="bold" fill="#000" text-anchor="middle" >T (K)</text>
<text x="1202.5" y="2071.9" font-family="'Liberation Sans', Arial, sans-serif" font-size="52" font-weight="bold" fill="#000" text-anchor="start" >P</text>
<text x="1298.5" y="2071.9" font-family="'Liberation Sans', Arial, sans-serif" font-size="52" font-weight="bold" fill="#000" text-anchor="start" >0</text>
<line x1="1231.4" y1="2057" x2="1285" y2="2057" stroke="#000" stroke-width="3" />
<path d="M1301.1,2057 L1281.6,2051.5 L1281.6,2062.5 Z" fill="#000"/>
<text x="1646" y="2270.3" font-family="'Liberation Sans', Arial, sans-serif" font-size="52" font-weight="bold" fill="#000" text-anchor="start" >0</text>
<text x="1739.5" y="2270.3" font-family="'Liberation Sans', Arial, sans-serif" font-size="52" font-weight="bold" fill="#000" text-anchor="start" >P</text>
<line x1="1683" y1="2252" x2="1722" y2="2252" stroke="#000" stroke-width="3.5" />
<path d="M1738,2252 L1718,2246 L1718,2258 Z" fill="#000"/>
<path d="M1208.06,2116.7 L1578,2116.7" fill="none" stroke="#2e2e2e" stroke-width="3" stroke-linejoin="round" stroke-linecap="butt" />
<path d="M1208.06,2116.7 L1578,2116.7" fill="none" stroke="#f72525" stroke-width="3" stroke-linejoin="round" stroke-linecap="butt" />
<path d="M1208.06,2116.7 L1578,2116.7" fill="none" stroke="#3360f5" stroke-width="3" stroke-linejoin="round" stroke-linecap="butt" />
<path d="M1208.06,2116.7 L1578,2116.7" fill="none" stroke="#46b257" stroke-width="3.5" stroke-linejoin="round" stroke-linecap="butt" />
<ellipse cx="1537.5" cy="2116.7" rx="8.5" ry="5.5" fill="#46b257"/>
<ellipse cx="1538" cy="2116.7" rx="3.5" ry="2" fill="#3360f5"/>
<path d="M1208.06,2116.7 L1487.8,2116.7 L1495.44,2111.68 L1498.3,2109.1 L1500.95,2105.97 L1508.7,2094.4 L1519.01,2074.36 L1520.03,2073.03 L1521.37,2072.47 L1524.61,2073.37 L1533.8,2079.8 L1544.46,2086.54 L1559.83,2095.55 L1564.4,2100.22 L1575.07,2114.61 L1577,2116.7" fill="none" stroke="#a65cf2" stroke-width="3.1" stroke-linejoin="round" stroke-linecap="butt" />
<path d="M1208.06,2116.7 L1487.8,2116.7 L1511.15,2136.71 L1523.95,2149.53 L1530.91,2155.76 L1534.7,2158.58 L1539.12,2161.16 L1542.11,2161.97 L1544.3,2161.3 L1545.49,2160.4 L1554.7,2148.8 L1557.85,2146.46 L1566.02,2141.52 L1569.4,2138.01 L1571.76,2134.2 L1573.97,2128.39 L1575.6,2116.7" fill="none" stroke="#a65cf2" stroke-width="3.1" stroke-linejoin="round" stroke-linecap="butt" />
<path d="M1441.8,2116.7 L1455.38,2114.17 L1468.21,2110.9 L1471.42,2108.78 L1473.2,2107 L1479.57,2098.99 L1486.23,2088.12 L1489.9,2079.8 L1492.59,2069.67 L1497.31,2041.87 L1500.23,2032.6 L1503.02,2028.26 L1505.26,2026.93 L1508.13,2026.33 L1513.56,2027.86 L1530.43,2036.51 L1543.19,2044.91 L1548.67,2050.11 L1550.5,2052.6 L1554.32,2059.32 L1560.15,2072.01 L1567.84,2090.65 L1577,2116.7 L1810.04,2116.7" fill="none" stroke="#cb9620" stroke-width="3.1" stroke-linejoin="round" stroke-linecap="butt" stroke-dasharray="21,23" />
<path d="M1441.8,2116.7 L1471.74,2122.29 L1475.3,2123.7 L1480.1,2126.96 L1496.98,2142.99 L1505.74,2152.87 L1522.84,2176.43 L1526.68,2182.25 L1532.98,2193.27 L1535.9,2196.9 L1539.26,2199.91 L1542.94,2202.48 L1546.75,2204.34 L1550.5,2205.2 L1554.32,2204.92 L1558.24,2203.67 L1561.97,2201.64 L1565.2,2199 L1567.84,2195.91 L1570.05,2192.22 L1572.74,2185.11 L1574.78,2175.26 L1576.45,2158.49 L1577.35,2140.97 L1577.5,2116.7 L1810.04,2116.7" fill="none" stroke="#cb9620" stroke-width="3.1" stroke-linejoin="round" stroke-linecap="butt" stroke-dasharray="21,23" />
<path d="M1433.5,2116.7 L1441,2111 L1446.43,2108.71 L1448.88,2106.11 L1453.24,2096.62 L1458.32,2081.9 L1463.81,2063.02 L1469,2035.9 L1471.39,2025.59 L1476.4,1984.22 L1478.4,1981.5 L1482.98,1978.61 L1489,1976.6 L1493,1976.3 L1498.94,1977.62 L1504.97,1980.67 L1510.41,1985.31 L1515.07,1991.49 L1523,2005.74 L1531.91,2025.8 L1535.9,2033.8 L1540.35,2041.08 L1550.05,2055.24 L1554.7,2063.1 L1559.17,2072.46 L1571.4,2100.7 L1576.16,2108.44 L1583.4,2116.85 L1810.04,2116.7" fill="none" stroke="#5ee6d6" stroke-width="3.1" stroke-linejoin="round" stroke-linecap="butt" stroke-dasharray="21,23" />
<path d="M1433.5,2116.7 L1441,2122 L1448.78,2126.84 L1455.28,2131.92 L1462.94,2138.59 L1470.27,2146.39 L1494.1,2173.9 L1506.87,2190.13 L1516.18,2204.07 L1532.68,2231.57 L1544.54,2249.97 L1548.41,2254.06 L1550.5,2255.4 L1552.83,2256.19 L1555.45,2256.54 L1558.22,2256.51 L1563.78,2255.61 L1571.77,2252.96 L1574.11,2253.78 L1574.86,2251.5 L1576.02,2234.83 L1576.69,2211.49 L1578,2116.7 L1810.04,2116.7" fill="none" stroke="#5ee6d6" stroke-width="3.1" stroke-linejoin="round" stroke-linecap="butt" stroke-dasharray="21,23" />
<path d="M1208.06,2116.7 L1400,2116.7 L1407.26,2114.11 L1412.5,2111 L1419.06,2104.07 L1426.37,2093.34 L1431.72,2081.77 L1434.31,2074.02 L1435.73,2068.34 L1442.43,2034.49 L1448.76,1990.6 L1450.77,1968.63 L1452.02,1946.16 L1453.56,1934.21 L1454.65,1929.71 L1456.5,1926.1 L1461.16,1922.01 L1465.09,1920.19 L1469.15,1919.6 L1473,1920.6 L1474.9,1921.65 L1478.76,1924.72 L1484.73,1931.63 L1491.13,1941.55 L1510.53,1980.11 L1535.9,2033.8 L1546.57,2051.65 L1550.5,2058.9 L1574.11,2111.04 L1576.52,2115.48 L1578,2116.7 L1810.04,2116.7" fill="none" stroke="#6c2629" stroke-width="3.1" stroke-linejoin="round" stroke-linecap="butt" stroke-dasharray="21,23" />
<path d="M1208.06,2116.7 L1400,2116.7 L1410.75,2121.17 L1421.75,2126.55 L1428.87,2131.32 L1436.62,2138.97 L1442.85,2146.45 L1452.3,2159.3 L1461.82,2170.15 L1466.21,2175.9 L1475.3,2190.6 L1484.4,2203.28 L1489.73,2211.44 L1505.71,2238.59 L1522.94,2265.67 L1526.52,2272.29 L1532.62,2286.78 L1536.43,2292.77 L1543.79,2301.04 L1553.16,2309.24 L1557.9,2311.9 L1561.11,2312.91 L1564.39,2313.41 L1567.45,2313.18 L1571.03,2311.5 L1573.37,2311.13 L1574.51,2307.74 L1575.5,2298 L1576.65,2266.76 L1577.36,2225.44 L1577.92,2176.19 L1578,2116.7 L1810.04,2116.7" fill="none" stroke="#6c2629" stroke-width="3.1" stroke-linejoin="round" stroke-linecap="butt" stroke-dasharray="21,23" /></svg>
</body></html>
